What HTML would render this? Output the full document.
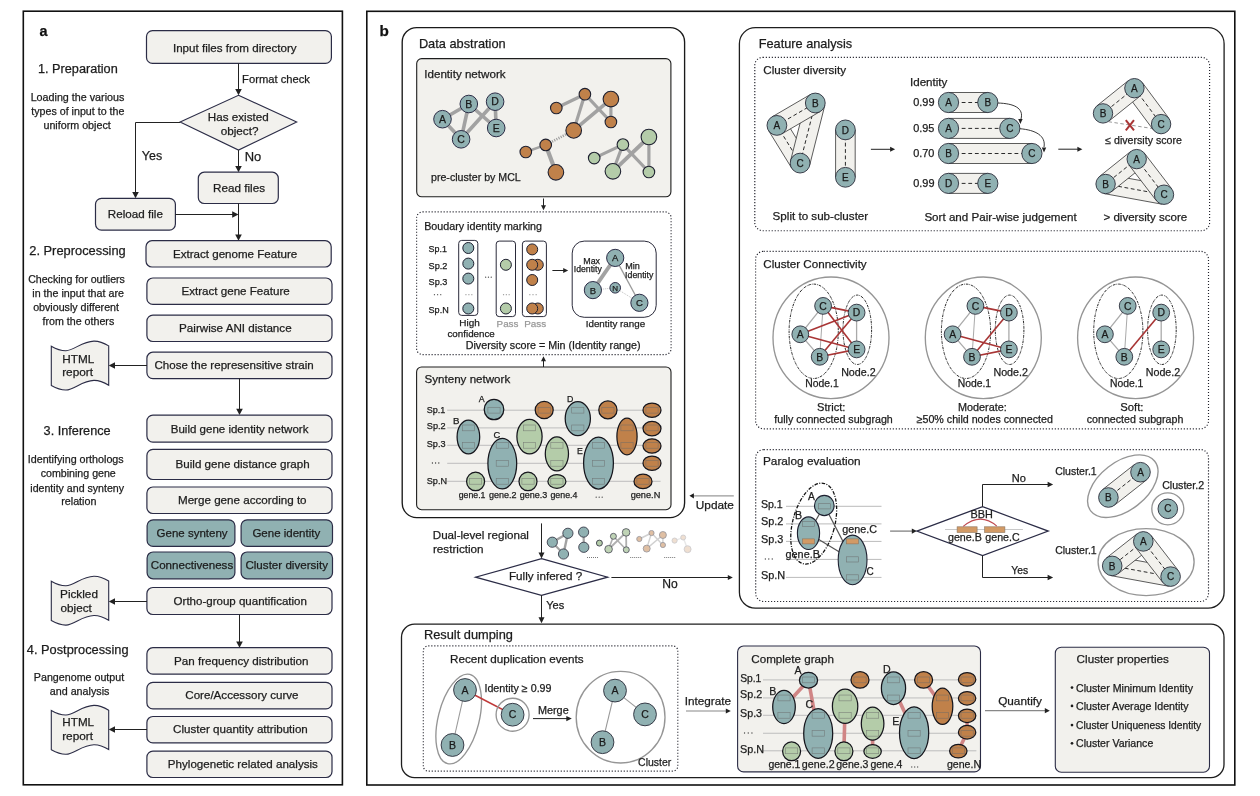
<!DOCTYPE html>
<html><head><meta charset="utf-8"><style>
html,body{margin:0;padding:0;background:#fff;width:1260px;height:796px;overflow:hidden}
svg{display:block;will-change:transform;font-family:"Liberation Sans", sans-serif}
</style></head><body>
<svg width="1260" height="796" viewBox="0 0 1260 796">
<rect width="1260" height="796" fill="#fff"/>
<rect x="23.3" y="11.2" width="319.1" height="773.6" rx="0" fill="none" stroke="#111" stroke-width="1.6" />
<text x="39.6" y="36" font-size="14.39" text-anchor="start" fill="#111" stroke="#111" stroke-width="0.25" font-weight="bold" >a</text>
<text x="37.95" y="72.9" font-size="12.71" text-anchor="start" fill="#1c1c1c" stroke="#1c1c1c" stroke-width="0.25" font-weight="normal" >1. Preparation</text>
<text x="30.64" y="100.7" font-size="10.74" text-anchor="start" fill="#1c1c1c" stroke="#1c1c1c" stroke-width="0.25" font-weight="normal" >Loading the various</text>
<text x="31.34" y="115.3" font-size="10.67" text-anchor="start" fill="#1c1c1c" stroke="#1c1c1c" stroke-width="0.25" font-weight="normal" >types of input to the</text>
<text x="43.43" y="129.4" font-size="10.72" text-anchor="start" fill="#1c1c1c" stroke="#1c1c1c" stroke-width="0.25" font-weight="normal" >uniform object</text>
<text x="29.26" y="255.3" font-size="12.87" text-anchor="start" fill="#1c1c1c" stroke="#1c1c1c" stroke-width="0.25" font-weight="normal" >2. Preprocessing</text>
<text x="28.17" y="283" font-size="10.62" text-anchor="start" fill="#1c1c1c" stroke="#1c1c1c" stroke-width="0.25" font-weight="normal" >Checking for outliers</text>
<text x="32.3" y="296.5" font-size="10.71" text-anchor="start" fill="#1c1c1c" stroke="#1c1c1c" stroke-width="0.25" font-weight="normal" >in the input that are</text>
<text x="33.17" y="310.7" font-size="10.68" text-anchor="start" fill="#1c1c1c" stroke="#1c1c1c" stroke-width="0.25" font-weight="normal" >obviously different</text>
<text x="42.57" y="324.8" font-size="10.66" text-anchor="start" fill="#1c1c1c" stroke="#1c1c1c" stroke-width="0.25" font-weight="normal" >from the others</text>
<text x="43.62" y="435.3" font-size="12.69" text-anchor="start" fill="#1c1c1c" stroke="#1c1c1c" stroke-width="0.25" font-weight="normal" >3. Inference</text>
<text x="27.74" y="463.2" font-size="10.72" text-anchor="start" fill="#1c1c1c" stroke="#1c1c1c" stroke-width="0.25" font-weight="normal" >Identifying orthologs</text>
<text x="40.75" y="477.1" font-size="10.64" text-anchor="start" fill="#1c1c1c" stroke="#1c1c1c" stroke-width="0.25" font-weight="normal" >combining gene</text>
<text x="30.31" y="491.5" font-size="10.61" text-anchor="start" fill="#1c1c1c" stroke="#1c1c1c" stroke-width="0.25" font-weight="normal" >identity and synteny</text>
<text x="61.2" y="505" font-size="10.75" text-anchor="start" fill="#1c1c1c" stroke="#1c1c1c" stroke-width="0.25" font-weight="normal" >relation</text>
<text x="26.81" y="653.6" font-size="12.81" text-anchor="start" fill="#1c1c1c" stroke="#1c1c1c" stroke-width="0.25" font-weight="normal" >4. Postprocessing</text>
<text x="33.85" y="681" font-size="10.69" text-anchor="start" fill="#1c1c1c" stroke="#1c1c1c" stroke-width="0.25" font-weight="normal" >Pangenome output</text>
<text x="49.74" y="695.2" font-size="10.74" text-anchor="start" fill="#1c1c1c" stroke="#1c1c1c" stroke-width="0.25" font-weight="normal" >and analysis</text>
<rect x="146.5" y="30.6" width="184.9" height="32.8" rx="6" fill="#f2f1ed" stroke="#2b2c46" stroke-width="1.2" />
<text x="172.96" y="52.2" font-size="11.6" text-anchor="start" fill="#1c1c1c" stroke="#1c1c1c" stroke-width="0.25" font-weight="normal" >Input files from directory</text>
<line x1="238.5" y1="63.5" x2="238.5" y2="90.26" stroke="#222" stroke-width="1" />
<polygon points="238.5,95.3 235.2,89 241.8,89" fill="#222" stroke="none" stroke-width="1" />
<text x="242.1" y="82.8" font-size="11.2" text-anchor="start" fill="#1c1c1c" stroke="#1c1c1c" stroke-width="0.25" font-weight="normal" >Format check</text>
<polygon points="238.5,95.3 296.7,122 238.5,150.1 180.1,122" fill="#f2f1ed" stroke="#2b2c46" stroke-width="1.1" />
<text x="207.87" y="120.6" font-size="11.65" text-anchor="start" fill="#1c1c1c" stroke="#1c1c1c" stroke-width="0.25" font-weight="normal" >Has existed</text>
<text x="220.63" y="135.2" font-size="11.72" text-anchor="start" fill="#1c1c1c" stroke="#1c1c1c" stroke-width="0.25" font-weight="normal" >object?</text>
<polyline points="180.1,122.5 135.5,122.5 135.5,192" fill="none" stroke="#222" stroke-width="1" />
<polygon points="135.5,198.3 132.2,192 138.8,192" fill="#222" stroke="none" stroke-width="1" />
<text x="141.85" y="160" font-size="12.42" text-anchor="start" fill="#1c1c1c" stroke="#1c1c1c" stroke-width="0.25" font-weight="normal" >Yes</text>
<line x1="238.5" y1="150.1" x2="238.5" y2="167.16" stroke="#222" stroke-width="1" />
<polygon points="238.5,172.2 235.2,165.9 241.8,165.9" fill="#222" stroke="none" stroke-width="1" />
<text x="244.66" y="160.7" font-size="12.96" text-anchor="start" fill="#1c1c1c" stroke="#1c1c1c" stroke-width="0.25" font-weight="normal" >No</text>
<rect x="198.3" y="172.2" width="80" height="31.3" rx="6" fill="#f2f1ed" stroke="#2b2c46" stroke-width="1.2" />
<text x="213.07" y="192" font-size="11.68" text-anchor="start" fill="#1c1c1c" stroke="#1c1c1c" stroke-width="0.25" font-weight="normal" >Read files</text>
<rect x="95.5" y="198.3" width="79.9" height="31.8" rx="6" fill="#f2f1ed" stroke="#2b2c46" stroke-width="1.2" />
<text x="107.87" y="218.2" font-size="11.65" text-anchor="start" fill="#1c1c1c" stroke="#1c1c1c" stroke-width="0.25" font-weight="normal" >Reload file</text>
<line x1="175.4" y1="214.5" x2="233.46" y2="214.5" stroke="#222" stroke-width="1" />
<polygon points="238.5,214.5 232.2,211.2 232.2,217.8" fill="#222" stroke="none" stroke-width="1" />
<line x1="238.5" y1="203.5" x2="238.5" y2="235.76" stroke="#222" stroke-width="1" />
<polygon points="238.5,240.8 235.2,234.5 241.8,234.5" fill="#222" stroke="none" stroke-width="1" />
<rect x="146" y="240.7" width="185.2" height="26.3" rx="6" fill="#f2f1ed" stroke="#2b2c46" stroke-width="1.2" />
<text x="172.97" y="258" font-size="11.59" text-anchor="start" fill="#1c1c1c" stroke="#1c1c1c" stroke-width="0.25" font-weight="normal" >Extract genome Feature</text>
<rect x="146.9" y="278" width="185.1" height="26.4" rx="6" fill="#f2f1ed" stroke="#2b2c46" stroke-width="1.2" />
<text x="181.47" y="295" font-size="11.6" text-anchor="start" fill="#1c1c1c" stroke="#1c1c1c" stroke-width="0.25" font-weight="normal" >Extract gene Feature</text>
<rect x="146.9" y="315.1" width="185.1" height="26.4" rx="6" fill="#f2f1ed" stroke="#2b2c46" stroke-width="1.2" />
<text x="179.07" y="332.1" font-size="11.65" text-anchor="start" fill="#1c1c1c" stroke="#1c1c1c" stroke-width="0.25" font-weight="normal" >Pairwise ANI distance</text>
<rect x="146.9" y="352.2" width="185.1" height="26.4" rx="6" fill="#f2f1ed" stroke="#2b2c46" stroke-width="1.2" />
<text x="154.52" y="369.2" font-size="11.55" text-anchor="start" fill="#1c1c1c" stroke="#1c1c1c" stroke-width="0.25" font-weight="normal" >Chose the represensitive strain</text>
<line x1="239.5" y1="378.6" x2="239.5" y2="410.06" stroke="#222" stroke-width="1" />
<polygon points="239.5,415.1 236.2,408.8 242.8,408.8" fill="#222" stroke="none" stroke-width="1" />
<rect x="146.9" y="415.1" width="185.1" height="27" rx="6" fill="#f2f1ed" stroke="#2b2c46" stroke-width="1.2" />
<text x="170.78" y="432.5" font-size="11.53" text-anchor="start" fill="#1c1c1c" stroke="#1c1c1c" stroke-width="0.25" font-weight="normal" >Build gene identity network</text>
<rect x="146.9" y="449.4" width="185.1" height="30.1" rx="6" fill="#f2f1ed" stroke="#2b2c46" stroke-width="1.2" />
<text x="175.57" y="468.4" font-size="11.6" text-anchor="start" fill="#1c1c1c" stroke="#1c1c1c" stroke-width="0.25" font-weight="normal" >Build gene distance graph</text>
<rect x="146.9" y="487" width="185.1" height="26.5" rx="6" fill="#f2f1ed" stroke="#2b2c46" stroke-width="1.2" />
<text x="177.97" y="503.7" font-size="11.64" text-anchor="start" fill="#1c1c1c" stroke="#1c1c1c" stroke-width="0.25" font-weight="normal" >Merge gene according to</text>
<rect x="147.1" y="519.8" width="87.8" height="26.6" rx="6" fill="#90b1b2" stroke="#2b2c46" stroke-width="1.2" />
<text x="156.52" y="537.2" font-size="11.52" text-anchor="start" fill="#1c1c1c" stroke="#1c1c1c" stroke-width="0.25" font-weight="normal" >Gene synteny</text>
<rect x="241.1" y="519.8" width="91.4" height="26.6" rx="6" fill="#90b1b2" stroke="#2b2c46" stroke-width="1.2" />
<text x="252.42" y="537.2" font-size="11.5" text-anchor="start" fill="#1c1c1c" stroke="#1c1c1c" stroke-width="0.25" font-weight="normal" >Gene identity</text>
<rect x="147.1" y="552" width="87.8" height="26.8" rx="6" fill="#90b1b2" stroke="#2b2c46" stroke-width="1.2" />
<text x="150.82" y="569.3" font-size="11.59" text-anchor="start" fill="#1c1c1c" stroke="#1c1c1c" stroke-width="0.25" font-weight="normal" >Connectiveness</text>
<rect x="241.1" y="552" width="91.4" height="26.8" rx="6" fill="#90b1b2" stroke="#2b2c46" stroke-width="1.2" />
<text x="245.42" y="569.3" font-size="11.62" text-anchor="start" fill="#1c1c1c" stroke="#1c1c1c" stroke-width="0.25" font-weight="normal" >Cluster diversity</text>
<rect x="146.9" y="587.5" width="185.1" height="27" rx="6" fill="#f2f1ed" stroke="#2b2c46" stroke-width="1.2" />
<text x="173.58" y="605.2" font-size="11.54" text-anchor="start" fill="#1c1c1c" stroke="#1c1c1c" stroke-width="0.25" font-weight="normal" >Ortho-group quantification</text>
<line x1="239.5" y1="614.5" x2="239.5" y2="642.66" stroke="#222" stroke-width="1" />
<polygon points="239.5,647.7 236.2,641.4 242.8,641.4" fill="#222" stroke="none" stroke-width="1" />
<rect x="146.9" y="647.7" width="185.1" height="26.5" rx="6" fill="#f2f1ed" stroke="#2b2c46" stroke-width="1.2" />
<text x="174.07" y="664.6" font-size="11.64" text-anchor="start" fill="#1c1c1c" stroke="#1c1c1c" stroke-width="0.25" font-weight="normal" >Pan frequency distribution</text>
<rect x="146.9" y="682.3" width="185.1" height="26.6" rx="6" fill="#f2f1ed" stroke="#2b2c46" stroke-width="1.2" />
<text x="185.32" y="699.2" font-size="11.58" text-anchor="start" fill="#1c1c1c" stroke="#1c1c1c" stroke-width="0.25" font-weight="normal" >Core/Accessory curve</text>
<rect x="146.9" y="716.5" width="185.1" height="26.4" rx="6" fill="#f2f1ed" stroke="#2b2c46" stroke-width="1.2" />
<text x="173.12" y="733.3" font-size="11.6" text-anchor="start" fill="#1c1c1c" stroke="#1c1c1c" stroke-width="0.25" font-weight="normal" >Cluster quantity attribution</text>
<rect x="146.9" y="751.1" width="185.1" height="26.4" rx="6" fill="#f2f1ed" stroke="#2b2c46" stroke-width="1.2" />
<text x="167.87" y="767.5" font-size="11.59" text-anchor="start" fill="#1c1c1c" stroke="#1c1c1c" stroke-width="0.25" font-weight="normal" >Phylogenetic related analysis</text>
<path d="M51.3,346.2 C57,349.5 61,350.8 66,350.7 C74,350.5 82,341.3 93.9,341.1 C99,341 104,343 108.7,345.9 L108.7,385.2 C104,382.3 99,380.3 93.9,380.4 C82,380.6 74,390 66,390 C61,390.1 57,388.7 51.3,385.5 Z" fill="#f2f1ed" stroke="#2b2c46" stroke-width="1.1" />
<text x="62.36" y="362.5" font-size="11.72" text-anchor="start" fill="#1c1c1c" stroke="#1c1c1c" stroke-width="0.25" font-weight="normal" >HTML</text>
<text x="62.13" y="376" font-size="11.84" text-anchor="start" fill="#1c1c1c" stroke="#1c1c1c" stroke-width="0.25" font-weight="normal" >report</text>
<line x1="147" y1="365.5" x2="113.74" y2="365.5" stroke="#222" stroke-width="1" />
<polygon points="108.7,365.5 115,362.2 115,368.8" fill="#222" stroke="none" stroke-width="1" />
<path d="M51.3,581.3 C57,584.6 61,585.9 66,585.8 C74,585.6 82,576.4 93.9,576.2 C99,576.1 104,578.1 108.7,581 L108.7,620.3 C104,617.4 99,615.4 93.9,615.5 C82,615.7 74,625.1 66,625.1 C61,625.2 57,623.8 51.3,620.6 Z" fill="#f2f1ed" stroke="#2b2c46" stroke-width="1.1" />
<text x="60.06" y="597.8" font-size="11.75" text-anchor="start" fill="#1c1c1c" stroke="#1c1c1c" stroke-width="0.25" font-weight="normal" >Pickled</text>
<text x="60.53" y="611.5" font-size="11.71" text-anchor="start" fill="#1c1c1c" stroke="#1c1c1c" stroke-width="0.25" font-weight="normal" >object</text>
<line x1="147" y1="601.5" x2="113.74" y2="601.5" stroke="#222" stroke-width="1" />
<polygon points="108.7,601.5 115,598.2 115,604.8" fill="#222" stroke="none" stroke-width="1" />
<path d="M51.3,710.5 C57,713.8 61,715.1 66,715 C74,714.8 82,705.6 93.9,705.4 C99,705.3 104,707.3 108.7,710.2 L108.7,749.5 C104,746.6 99,744.6 93.9,744.7 C82,744.9 74,754.3 66,754.3 C61,754.4 57,753 51.3,749.8 Z" fill="#f2f1ed" stroke="#2b2c46" stroke-width="1.1" />
<text x="62.37" y="726.4" font-size="11.65" text-anchor="start" fill="#1c1c1c" stroke="#1c1c1c" stroke-width="0.25" font-weight="normal" >HTML</text>
<text x="62.13" y="740.3" font-size="11.84" text-anchor="start" fill="#1c1c1c" stroke="#1c1c1c" stroke-width="0.25" font-weight="normal" >report</text>
<line x1="147" y1="729.5" x2="113.74" y2="729.5" stroke="#222" stroke-width="1" />
<polygon points="108.7,729.5 115,726.2 115,732.8" fill="#222" stroke="none" stroke-width="1" />
<rect x="366.8" y="11.3" width="868" height="773.7" rx="0" fill="none" stroke="#111" stroke-width="1.6" />
<text x="379.51" y="35.5" font-size="15.25" text-anchor="start" fill="#111" stroke="#111" stroke-width="0.25" font-weight="bold" >b</text>
<rect x="402.2" y="27.6" width="282.4" height="490" rx="14.5" fill="none" stroke="#1a1a1a" stroke-width="1.35" />
<text x="418.88" y="47.9" font-size="12.81" text-anchor="start" fill="#1c1c1c" stroke="#1c1c1c" stroke-width="0.25" font-weight="normal" >Data abstration</text>
<rect x="416.7" y="58.6" width="254.2" height="138.2" rx="5" fill="#f2f1ed" stroke="#1e1e1e" stroke-width="1.1" />
<text x="424.25" y="77.6" font-size="11.61" text-anchor="start" fill="#1c1c1c" stroke="#1c1c1c" stroke-width="0.25" font-weight="normal" >Identity network</text>
<text x="431.03" y="181.1" font-size="10.64" text-anchor="start" fill="#1c1c1c" stroke="#1c1c1c" stroke-width="0.25" font-weight="normal" >pre-cluster by MCL</text>
<line x1="442.5" y1="119.2" x2="468.8" y2="104" stroke="#a2a2a2" stroke-width="3.6" />
<line x1="442.5" y1="119.2" x2="461.1" y2="139.3" stroke="#a2a2a2" stroke-width="3.6" />
<line x1="468.8" y1="104" x2="461.1" y2="139.3" stroke="#a2a2a2" stroke-width="3.6" />
<line x1="468.8" y1="104" x2="496.2" y2="128" stroke="#a2a2a2" stroke-width="3.6" />
<line x1="461.1" y1="139.3" x2="495.1" y2="101.7" stroke="#a2a2a2" stroke-width="3.6" />
<line x1="495.1" y1="101.7" x2="496.2" y2="128" stroke="#a2a2a2" stroke-width="3.6" />
<circle cx="442.5" cy="119.2" r="8.8" fill="#90b1b2" stroke="#2b2c46" stroke-width="1" />
<text x="442.5" y="122.98" font-size="10.5" text-anchor="middle" fill="#1a1a1a" stroke="#1a1a1a" stroke-width="0.25" font-weight="normal" >A</text>
<circle cx="468.8" cy="104" r="8.8" fill="#90b1b2" stroke="#2b2c46" stroke-width="1" />
<text x="468.8" y="107.78" font-size="10.5" text-anchor="middle" fill="#1a1a1a" stroke="#1a1a1a" stroke-width="0.25" font-weight="normal" >B</text>
<circle cx="461.1" cy="139.3" r="8.8" fill="#90b1b2" stroke="#2b2c46" stroke-width="1" />
<text x="461.1" y="143.08" font-size="10.5" text-anchor="middle" fill="#1a1a1a" stroke="#1a1a1a" stroke-width="0.25" font-weight="normal" >C</text>
<circle cx="495.1" cy="101.7" r="8.8" fill="#90b1b2" stroke="#2b2c46" stroke-width="1" />
<text x="495.1" y="105.48" font-size="10.5" text-anchor="middle" fill="#1a1a1a" stroke="#1a1a1a" stroke-width="0.25" font-weight="normal" >D</text>
<circle cx="496.2" cy="128" r="8.8" fill="#90b1b2" stroke="#2b2c46" stroke-width="1" />
<text x="496.2" y="131.78" font-size="10.5" text-anchor="middle" fill="#1a1a1a" stroke="#1a1a1a" stroke-width="0.25" font-weight="normal" >E</text>
<line x1="556.3" y1="108" x2="584.9" y2="94.2" stroke="#a2a2a2" stroke-width="3.2" />
<line x1="584.9" y1="94.2" x2="573.7" y2="130.4" stroke="#a2a2a2" stroke-width="3.2" />
<line x1="584.9" y1="94.2" x2="610.9" y2="122" stroke="#a2a2a2" stroke-width="3.2" />
<line x1="573.7" y1="130.4" x2="610.9" y2="99.1" stroke="#a2a2a2" stroke-width="3.6" />
<line x1="610.9" y1="99.1" x2="610.9" y2="122" stroke="#a2a2a2" stroke-width="3.2" />
<line x1="525.8" y1="152" x2="545.7" y2="144.9" stroke="#a2a2a2" stroke-width="2.4" />
<line x1="545.7" y1="144.9" x2="555.9" y2="172.3" stroke="#a2a2a2" stroke-width="4.2" />
<line x1="545.7" y1="144.9" x2="573.7" y2="130.4" stroke="#a2a2a2" stroke-width="2.6" stroke-dasharray="1.2 1.2"/>
<circle cx="556.3" cy="108" r="5.8" fill="#c0814a" stroke="#1e2030" stroke-width="1.1" />
<circle cx="584.9" cy="94.2" r="5.8" fill="#c0814a" stroke="#1e2030" stroke-width="1.1" />
<circle cx="610.9" cy="99.1" r="7.8" fill="#c0814a" stroke="#1e2030" stroke-width="1.1" />
<circle cx="610.9" cy="122" r="5.8" fill="#c0814a" stroke="#1e2030" stroke-width="1.1" />
<circle cx="573.7" cy="130.4" r="7.8" fill="#c0814a" stroke="#1e2030" stroke-width="1.1" />
<circle cx="525.8" cy="152" r="5.8" fill="#c0814a" stroke="#1e2030" stroke-width="1.1" />
<circle cx="545.7" cy="144.9" r="5.8" fill="#c0814a" stroke="#1e2030" stroke-width="1.1" />
<circle cx="555.9" cy="172.3" r="7.8" fill="#c0814a" stroke="#1e2030" stroke-width="1.1" />
<line x1="594.2" y1="158.1" x2="622.9" y2="144.6" stroke="#a2a2a2" stroke-width="3.2" />
<line x1="622.9" y1="144.6" x2="612.9" y2="171.3" stroke="#a2a2a2" stroke-width="3.2" />
<line x1="612.9" y1="171.3" x2="648.9" y2="137" stroke="#a2a2a2" stroke-width="3.8" />
<line x1="622.9" y1="144.6" x2="648.9" y2="172" stroke="#a2a2a2" stroke-width="3.2" />
<line x1="648.9" y1="137" x2="648.9" y2="172" stroke="#a2a2a2" stroke-width="3.2" />
<circle cx="648.9" cy="137" r="7.8" fill="#b4cca9" stroke="#1e2030" stroke-width="1.1" />
<circle cx="622.9" cy="144.6" r="5.8" fill="#b4cca9" stroke="#1e2030" stroke-width="1.1" />
<circle cx="594.2" cy="158.1" r="5.8" fill="#b4cca9" stroke="#1e2030" stroke-width="1.1" />
<circle cx="612.9" cy="171.3" r="7.8" fill="#b4cca9" stroke="#1e2030" stroke-width="1.1" />
<circle cx="648.9" cy="172" r="5.8" fill="#b4cca9" stroke="#1e2030" stroke-width="1.1" />
<line x1="543.5" y1="198.5" x2="543.5" y2="206.3" stroke="#222" stroke-width="1" />
<polygon points="543.5,210.3 541,205.3 546,205.3" fill="#222" stroke="none" stroke-width="1" />
<rect x="416.6" y="211.9" width="254.5" height="142.7" rx="6" fill="none" stroke="#1e1e28" stroke-width="1.15" stroke-dasharray="1.1 1.9"/>
<text x="424.24" y="229.6" font-size="10.71" text-anchor="start" fill="#1c1c1c" stroke="#1c1c1c" stroke-width="0.25" font-weight="normal" >Boudary identity marking</text>
<text x="428.6" y="251.9" font-size="8.92" text-anchor="start" fill="#1c1c1c" stroke="#1c1c1c" stroke-width="0.25" font-weight="normal" >Sp.1</text>
<text x="428.59" y="268.9" font-size="9.17" text-anchor="start" fill="#1c1c1c" stroke="#1c1c1c" stroke-width="0.25" font-weight="normal" >Sp.2</text>
<text x="428.59" y="285" font-size="9.15" text-anchor="start" fill="#1c1c1c" stroke="#1c1c1c" stroke-width="0.25" font-weight="normal" >Sp.3</text>
<text x="428.59" y="312.7" font-size="9.06" text-anchor="start" fill="#1c1c1c" stroke="#1c1c1c" stroke-width="0.25" font-weight="normal" >Sp.N</text>
<circle cx="434.45" cy="294.7" r="0.65" fill="#555" stroke="none" stroke-width="0" />
<circle cx="437.6" cy="294.7" r="0.65" fill="#555" stroke="none" stroke-width="0" />
<circle cx="440.75" cy="294.7" r="0.65" fill="#555" stroke="none" stroke-width="0" />
<rect x="458.7" y="240.4" width="19.1" height="75" rx="3" fill="none" stroke="#2a2a3a" stroke-width="1" />
<circle cx="468.3" cy="248" r="5.5" fill="#90b1b2" stroke="#1e2030" stroke-width="1" />
<circle cx="468.3" cy="263.6" r="5.5" fill="#90b1b2" stroke="#1e2030" stroke-width="1" />
<circle cx="468.3" cy="278.6" r="5.5" fill="#90b1b2" stroke="#1e2030" stroke-width="1" />
<circle cx="468.3" cy="308.5" r="5.5" fill="#90b1b2" stroke="#1e2030" stroke-width="1" />
<circle cx="465.95" cy="294.7" r="0.65" fill="#999" stroke="none" stroke-width="0" />
<circle cx="468.9" cy="294.7" r="0.65" fill="#999" stroke="none" stroke-width="0" />
<circle cx="471.85" cy="294.7" r="0.65" fill="#999" stroke="none" stroke-width="0" />
<circle cx="485.65" cy="277.2" r="0.65" fill="#444" stroke="none" stroke-width="0" />
<circle cx="488.45" cy="277.2" r="0.65" fill="#444" stroke="none" stroke-width="0" />
<circle cx="491.25" cy="277.2" r="0.65" fill="#444" stroke="none" stroke-width="0" />
<rect x="496.2" y="241.1" width="19.3" height="75.5" rx="3" fill="none" stroke="#2a2a3a" stroke-width="1" />
<circle cx="505.9" cy="264.8" r="5.5" fill="#b4cca9" stroke="#1e2030" stroke-width="1" />
<circle cx="505.9" cy="308.5" r="5.5" fill="#b4cca9" stroke="#1e2030" stroke-width="1" />
<circle cx="503.55" cy="294.7" r="0.65" fill="#999" stroke="none" stroke-width="0" />
<circle cx="506.35" cy="294.7" r="0.65" fill="#999" stroke="none" stroke-width="0" />
<circle cx="509.15" cy="294.7" r="0.65" fill="#999" stroke="none" stroke-width="0" />
<rect x="522.4" y="241.1" width="24" height="75.5" rx="3" fill="none" stroke="#2a2a3a" stroke-width="1" />
<circle cx="532.2" cy="249.4" r="5.5" fill="#c0814a" stroke="#1e2030" stroke-width="1" />
<circle cx="537.8" cy="264.8" r="5.5" fill="#c0814a" stroke="#1e2030" stroke-width="1" />
<circle cx="532.2" cy="264.8" r="5.5" fill="#c0814a" stroke="#1e2030" stroke-width="1" />
<circle cx="532.2" cy="280" r="5.5" fill="#c0814a" stroke="#1e2030" stroke-width="1" />
<circle cx="537.8" cy="308.5" r="5.5" fill="#c0814a" stroke="#1e2030" stroke-width="1" />
<circle cx="532.2" cy="308.5" r="5.5" fill="#c0814a" stroke="#1e2030" stroke-width="1" />
<circle cx="529.85" cy="294.7" r="0.65" fill="#999" stroke="none" stroke-width="0" />
<circle cx="533" cy="294.7" r="0.65" fill="#999" stroke="none" stroke-width="0" />
<circle cx="536.15" cy="294.7" r="0.65" fill="#999" stroke="none" stroke-width="0" />
<text x="459.31" y="325.5" font-size="9.93" text-anchor="start" fill="#1c1c1c" stroke="#1c1c1c" stroke-width="0.25" font-weight="normal" >High</text>
<text x="447.48" y="336.6" font-size="9.79" text-anchor="start" fill="#1c1c1c" stroke="#1c1c1c" stroke-width="0.25" font-weight="normal" >confidence</text>
<text x="496.61" y="326.9" font-size="9.82" text-anchor="start" fill="#999" stroke="#999" stroke-width="0.25" font-weight="normal" >Pass</text>
<text x="524.21" y="326.9" font-size="9.87" text-anchor="start" fill="#999" stroke="#999" stroke-width="0.25" font-weight="normal" >Pass</text>
<line x1="552.4" y1="270.5" x2="564.2" y2="270.5" stroke="#222" stroke-width="1" />
<polygon points="568.2,270.5 563.2,267.9 563.2,273.1" fill="#222" stroke="none" stroke-width="1" />
<rect x="572.2" y="241.1" width="84" height="76.2" rx="12" fill="none" stroke="#2a2a3a" stroke-width="1" />
<line x1="615.2" y1="257.9" x2="592.9" y2="290.1" stroke="#a2a2a2" stroke-width="3.8" />
<line x1="615.2" y1="257.9" x2="639.4" y2="302.8" stroke="#9a9a9a" stroke-width="1.3" />
<line x1="592.9" y1="290.1" x2="615.2" y2="287.8" stroke="#bbb" stroke-width="0.9" stroke-dasharray="1 1"/>
<line x1="615.2" y1="287.8" x2="639.4" y2="302.8" stroke="#bbb" stroke-width="0.9" stroke-dasharray="1 1"/>
<circle cx="615.2" cy="257.9" r="8.6" fill="#90b1b2" stroke="#2b2c46" stroke-width="1" />
<text x="615.2" y="261.32" font-size="9.5" text-anchor="middle" fill="#1a1a1a" stroke="#1a1a1a" stroke-width="0.25" font-weight="normal" >A</text>
<circle cx="592.9" cy="290.1" r="8.6" fill="#90b1b2" stroke="#2b2c46" stroke-width="1" />
<text x="592.9" y="293.52" font-size="9.5" text-anchor="middle" fill="#1a1a1a" stroke="#1a1a1a" stroke-width="0.25" font-weight="normal" >B</text>
<circle cx="639.4" cy="302.8" r="8.6" fill="#90b1b2" stroke="#2b2c46" stroke-width="1" />
<text x="639.4" y="306.22" font-size="9.5" text-anchor="middle" fill="#1a1a1a" stroke="#1a1a1a" stroke-width="0.25" font-weight="normal" >C</text>
<circle cx="615.2" cy="287.8" r="5.3" fill="#90b1b2" stroke="#2b2c46" stroke-width="1" />
<text x="615.2" y="290.68" font-size="8" text-anchor="middle" fill="#1a1a1a" stroke="#1a1a1a" stroke-width="0.25" font-weight="normal" >N</text>
<text x="583.29" y="263.7" font-size="8.89" text-anchor="start" fill="#1c1c1c" stroke="#1c1c1c" stroke-width="0.25" font-weight="normal" >Max</text>
<text x="573.72" y="272.4" font-size="8.71" text-anchor="start" fill="#1c1c1c" stroke="#1c1c1c" stroke-width="0.25" font-weight="normal" >Identity</text>
<text x="625.17" y="268.8" font-size="9.06" text-anchor="start" fill="#1c1c1c" stroke="#1c1c1c" stroke-width="0.25" font-weight="normal" >Min</text>
<text x="625.11" y="277.7" font-size="8.77" text-anchor="start" fill="#1c1c1c" stroke="#1c1c1c" stroke-width="0.25" font-weight="normal" >Identity</text>
<text x="585.72" y="326.9" font-size="9.81" text-anchor="start" fill="#1c1c1c" stroke="#1c1c1c" stroke-width="0.25" font-weight="normal" >Identity range</text>
<text x="465.74" y="348.8" font-size="10.72" text-anchor="start" fill="#1c1c1c" stroke="#1c1c1c" stroke-width="0.25" font-weight="normal" >Diversity score = Min (Identity range)</text>
<line x1="543.5" y1="367" x2="543.5" y2="360.3" stroke="#222" stroke-width="1" />
<polygon points="543.5,356.3 541,361.3 546,361.3" fill="#222" stroke="none" stroke-width="1" />
<rect x="416.6" y="367" width="254.4" height="142.7" rx="5" fill="#f2f1ed" stroke="#1e1e1e" stroke-width="1.1" />
<text x="424.58" y="382.9" font-size="11.59" text-anchor="start" fill="#1c1c1c" stroke="#1c1c1c" stroke-width="0.25" font-weight="normal" >Synteny network</text>
<line x1="447.2" y1="410.2" x2="660.6" y2="410.2" stroke="#bdbdbd" stroke-width="1" />
<line x1="447.2" y1="427.9" x2="660.6" y2="427.9" stroke="#bdbdbd" stroke-width="1" />
<line x1="447.2" y1="445.3" x2="660.6" y2="445.3" stroke="#bdbdbd" stroke-width="1" />
<line x1="447.2" y1="463.3" x2="660.6" y2="463.3" stroke="#bdbdbd" stroke-width="1" />
<line x1="447.2" y1="481.3" x2="660.6" y2="481.3" stroke="#bdbdbd" stroke-width="1" />
<ellipse cx="494" cy="409.5" rx="9.8" ry="10.2" fill="#90b1b2" stroke="#15151c" stroke-width="1.25" />
<rect x="487.9" y="407.3" width="12.2" height="5.8" rx="0" fill="none" stroke="#6a6a6a" stroke-width="0.6" opacity="0.75"/>
<ellipse cx="468.4" cy="436.9" rx="11.3" ry="16.9" fill="#90b1b2" stroke="#15151c" stroke-width="1.25" />
<rect x="462.3" y="425" width="12.2" height="5.8" rx="0" fill="none" stroke="#6a6a6a" stroke-width="0.6" opacity="0.75"/>
<rect x="462.3" y="442.4" width="12.2" height="5.8" rx="0" fill="none" stroke="#6a6a6a" stroke-width="0.6" opacity="0.75"/>
<ellipse cx="502.3" cy="463.6" rx="14.4" ry="25.3" fill="#90b1b2" stroke="#15151c" stroke-width="1.25" />
<rect x="496.2" y="442.4" width="12.2" height="5.8" rx="0" fill="none" stroke="#6a6a6a" stroke-width="0.6" opacity="0.75"/>
<rect x="496.2" y="460.4" width="12.2" height="5.8" rx="0" fill="none" stroke="#6a6a6a" stroke-width="0.6" opacity="0.75"/>
<rect x="496.2" y="478.4" width="12.2" height="5.8" rx="0" fill="none" stroke="#6a6a6a" stroke-width="0.6" opacity="0.75"/>
<ellipse cx="475.6" cy="481.4" rx="9" ry="9.3" fill="#b4cca9" stroke="#15151c" stroke-width="1.25" />
<rect x="469.5" y="478.4" width="12.2" height="5.8" rx="0" fill="none" stroke="#6a6a6a" stroke-width="0.6" opacity="0.75"/>
<ellipse cx="529.5" cy="436.6" rx="12.6" ry="17.3" fill="#b4cca9" stroke="#15151c" stroke-width="1.25" />
<rect x="523.4" y="425" width="12.2" height="5.8" rx="0" fill="none" stroke="#6a6a6a" stroke-width="0.6" opacity="0.75"/>
<rect x="523.4" y="442.4" width="12.2" height="5.8" rx="0" fill="none" stroke="#6a6a6a" stroke-width="0.6" opacity="0.75"/>
<ellipse cx="528" cy="481.4" rx="9" ry="9.3" fill="#b4cca9" stroke="#15151c" stroke-width="1.25" />
<rect x="521.9" y="478.4" width="12.2" height="5.8" rx="0" fill="none" stroke="#6a6a6a" stroke-width="0.6" opacity="0.75"/>
<ellipse cx="544.2" cy="410" rx="9" ry="8.7" fill="#c0814a" stroke="#15151c" stroke-width="1.25" />
<rect x="538.1" y="407.3" width="12.2" height="5.8" rx="0" fill="none" stroke="#6a6a6a" stroke-width="0.6" opacity="0.75"/>
<ellipse cx="556.9" cy="453.8" rx="11.6" ry="17" fill="#b4cca9" stroke="#15151c" stroke-width="1.25" />
<rect x="550.8" y="442.4" width="12.2" height="5.8" rx="0" fill="none" stroke="#6a6a6a" stroke-width="0.6" opacity="0.75"/>
<rect x="550.8" y="460.4" width="12.2" height="5.8" rx="0" fill="none" stroke="#6a6a6a" stroke-width="0.6" opacity="0.75"/>
<ellipse cx="556.9" cy="481.4" rx="9" ry="6.9" fill="#b4cca9" stroke="#15151c" stroke-width="1.25" />
<rect x="550.8" y="478.4" width="12.2" height="5.8" rx="0" fill="none" stroke="#6a6a6a" stroke-width="0.6" opacity="0.75"/>
<ellipse cx="577.8" cy="418.6" rx="12.6" ry="16.9" fill="#90b1b2" stroke="#15151c" stroke-width="1.25" />
<rect x="571.7" y="407.3" width="12.2" height="5.8" rx="0" fill="none" stroke="#6a6a6a" stroke-width="0.6" opacity="0.75"/>
<rect x="571.7" y="425" width="12.2" height="5.8" rx="0" fill="none" stroke="#6a6a6a" stroke-width="0.6" opacity="0.75"/>
<ellipse cx="607.9" cy="409.9" rx="9.1" ry="9" fill="#c0814a" stroke="#15151c" stroke-width="1.25" />
<rect x="601.8" y="407.3" width="12.2" height="5.8" rx="0" fill="none" stroke="#6a6a6a" stroke-width="0.6" opacity="0.75"/>
<ellipse cx="598.5" cy="463" rx="14.9" ry="26" fill="#90b1b2" stroke="#15151c" stroke-width="1.25" />
<rect x="592.4" y="442.4" width="12.2" height="5.8" rx="0" fill="none" stroke="#6a6a6a" stroke-width="0.6" opacity="0.75"/>
<rect x="592.4" y="460.4" width="12.2" height="5.8" rx="0" fill="none" stroke="#6a6a6a" stroke-width="0.6" opacity="0.75"/>
<rect x="592.4" y="478.4" width="12.2" height="5.8" rx="0" fill="none" stroke="#6a6a6a" stroke-width="0.6" opacity="0.75"/>
<ellipse cx="627" cy="436.5" rx="10.1" ry="18.3" fill="#c0814a" stroke="#15151c" stroke-width="1.25" />
<rect x="620.9" y="425" width="12.2" height="5.8" rx="0" fill="none" stroke="#6a6a6a" stroke-width="0.6" opacity="0.75"/>
<rect x="620.9" y="442.4" width="12.2" height="5.8" rx="0" fill="none" stroke="#6a6a6a" stroke-width="0.6" opacity="0.75"/>
<ellipse cx="652" cy="410.2" rx="9" ry="7.2" fill="#c0814a" stroke="#15151c" stroke-width="1.25" />
<rect x="645.9" y="407.3" width="12.2" height="5.8" rx="0" fill="none" stroke="#6a6a6a" stroke-width="0.6" opacity="0.75"/>
<ellipse cx="652" cy="428.6" rx="9" ry="7.2" fill="#c0814a" stroke="#15151c" stroke-width="1.25" />
<rect x="645.9" y="425" width="12.2" height="5.8" rx="0" fill="none" stroke="#6a6a6a" stroke-width="0.6" opacity="0.75"/>
<ellipse cx="652" cy="446" rx="9" ry="7.2" fill="#c0814a" stroke="#15151c" stroke-width="1.25" />
<rect x="645.9" y="442.4" width="12.2" height="5.8" rx="0" fill="none" stroke="#6a6a6a" stroke-width="0.6" opacity="0.75"/>
<ellipse cx="652" cy="463.2" rx="9" ry="7.2" fill="#c0814a" stroke="#15151c" stroke-width="1.25" />
<rect x="645.9" y="460.4" width="12.2" height="5.8" rx="0" fill="none" stroke="#6a6a6a" stroke-width="0.6" opacity="0.75"/>
<ellipse cx="643" cy="481.4" rx="9" ry="7.2" fill="#c0814a" stroke="#15151c" stroke-width="1.25" />
<rect x="636.9" y="478.4" width="12.2" height="5.8" rx="0" fill="none" stroke="#6a6a6a" stroke-width="0.6" opacity="0.75"/>
<text x="426.79" y="412.7" font-size="9.02" text-anchor="start" fill="#1c1c1c" stroke="#1c1c1c" stroke-width="0.25" font-weight="normal" >Sp.1</text>
<text x="426.79" y="428.6" font-size="9.17" text-anchor="start" fill="#1c1c1c" stroke="#1c1c1c" stroke-width="0.25" font-weight="normal" >Sp.2</text>
<text x="426.79" y="447.3" font-size="9.15" text-anchor="start" fill="#1c1c1c" stroke="#1c1c1c" stroke-width="0.25" font-weight="normal" >Sp.3</text>
<text x="426.79" y="483.5" font-size="9.11" text-anchor="start" fill="#1c1c1c" stroke="#1c1c1c" stroke-width="0.25" font-weight="normal" >Sp.N</text>
<circle cx="432.4" cy="463" r="0.65" fill="#333" stroke="none" stroke-width="0" />
<circle cx="435.6" cy="463" r="0.65" fill="#333" stroke="none" stroke-width="0" />
<circle cx="438.8" cy="463" r="0.65" fill="#333" stroke="none" stroke-width="0" />
<text x="478.8" y="402.2" font-size="8.87" text-anchor="start" fill="#1c1c1c" stroke="#1c1c1c" stroke-width="0.25" font-weight="normal" >A</text>
<text x="453.12" y="424" font-size="9.72" text-anchor="start" fill="#1c1c1c" stroke="#1c1c1c" stroke-width="0.25" font-weight="normal" >B</text>
<text x="493.54" y="437.6" font-size="9.29" text-anchor="start" fill="#1c1c1c" stroke="#1c1c1c" stroke-width="0.25" font-weight="normal" >C</text>
<text x="567" y="401.8" font-size="8.74" text-anchor="start" fill="#1c1c1c" stroke="#1c1c1c" stroke-width="0.25" font-weight="normal" >D</text>
<text x="577.1" y="453.8" font-size="8.81" text-anchor="start" fill="#1c1c1c" stroke="#1c1c1c" stroke-width="0.25" font-weight="normal" >E</text>
<text x="458.75" y="498" font-size="8.72" text-anchor="start" fill="#1c1c1c" stroke="#1c1c1c" stroke-width="0.25" font-weight="normal" >gene.1</text>
<text x="488.94" y="498" font-size="8.99" text-anchor="start" fill="#1c1c1c" stroke="#1c1c1c" stroke-width="0.25" font-weight="normal" >gene.2</text>
<text x="519.64" y="498" font-size="9.01" text-anchor="start" fill="#1c1c1c" stroke="#1c1c1c" stroke-width="0.25" font-weight="normal" >gene.3</text>
<text x="550.45" y="498" font-size="8.86" text-anchor="start" fill="#1c1c1c" stroke="#1c1c1c" stroke-width="0.25" font-weight="normal" >gene.4</text>
<text x="630.63" y="498" font-size="9.21" text-anchor="start" fill="#1c1c1c" stroke="#1c1c1c" stroke-width="0.25" font-weight="normal" >gene.N</text>
<circle cx="596.2" cy="497.2" r="0.65" fill="#444" stroke="none" stroke-width="0" />
<circle cx="599.2" cy="497.2" r="0.65" fill="#444" stroke="none" stroke-width="0" />
<circle cx="602.2" cy="497.2" r="0.65" fill="#444" stroke="none" stroke-width="0" />
<line x1="541.5" y1="523.4" x2="541.5" y2="553.8" stroke="#222" stroke-width="1" />
<polygon points="541.5,558.6 538.5,552.6 544.5,552.6" fill="#222" stroke="none" stroke-width="1" />
<text x="432.77" y="539" font-size="11.61" text-anchor="start" fill="#1c1c1c" stroke="#1c1c1c" stroke-width="0.25" font-weight="normal" >Dual-level regional</text>
<text x="432.94" y="552.5" font-size="11.7" text-anchor="start" fill="#1c1c1c" stroke="#1c1c1c" stroke-width="0.25" font-weight="normal" >restriction</text>
<polygon points="541.5,558.7 607.7,577.2 541.5,595.3 475.5,577.2" fill="#fff" stroke="#2b2c46" stroke-width="1.2" />
<text x="508.97" y="579.8" font-size="11.66" text-anchor="start" fill="#1c1c1c" stroke="#1c1c1c" stroke-width="0.25" font-weight="normal" >Fully infered ?</text>
<line x1="611.4" y1="577.5" x2="728.8" y2="577.5" stroke="#222" stroke-width="1" />
<polygon points="732.8,577.5 727.8,575 727.8,580" fill="#222" stroke="none" stroke-width="1" />
<text x="662.23" y="588.2" font-size="12.1" text-anchor="start" fill="#1c1c1c" stroke="#1c1c1c" stroke-width="0.25" font-weight="normal" >No</text>
<line x1="541.5" y1="595.3" x2="541.5" y2="618.4" stroke="#222" stroke-width="1" />
<polygon points="541.5,623.2 538.5,617.2 544.5,617.2" fill="#222" stroke="none" stroke-width="1" />
<text x="546.18" y="609.1" font-size="11.09" text-anchor="start" fill="#1c1c1c" stroke="#1c1c1c" stroke-width="0.25" font-weight="normal" >Yes</text>
<line x1="733.8" y1="495.8" x2="693" y2="495.8" stroke="#9a9a9a" stroke-width="1.3" />
<polygon points="689.4,495.8 693.9,493.2 693.9,498.4" fill="#1a1a1a" stroke="none" stroke-width="1" />
<text x="695.81" y="509" font-size="11.82" text-anchor="start" fill="#1c1c1c" stroke="#1c1c1c" stroke-width="0.25" font-weight="normal" >Update</text>
<g opacity="1">
<line x1="552.3" y1="542.2" x2="567.9" y2="533.3" stroke="#a2a2a2" stroke-width="2.4" />
<line x1="567.9" y1="533.3" x2="563.5" y2="554" stroke="#a2a2a2" stroke-width="2.4" />
<line x1="552.3" y1="542.2" x2="563.5" y2="554" stroke="#a2a2a2" stroke-width="2" />
<circle cx="552.3" cy="542.2" r="5.1" fill="#90b1b2" stroke="#2a2a3a" stroke-width="0.8" />
<circle cx="567.9" cy="533.3" r="5.1" fill="#90b1b2" stroke="#2a2a3a" stroke-width="0.8" />
<circle cx="563.5" cy="554" r="5.1" fill="#90b1b2" stroke="#2a2a3a" stroke-width="0.8" />
</g>
<g opacity="1">
<line x1="583.6" y1="532.1" x2="583.8" y2="547.3" stroke="#a2a2a2" stroke-width="2.2" />
<circle cx="583.6" cy="532.1" r="5.1" fill="#90b1b2" stroke="#2a2a3a" stroke-width="0.8" />
<circle cx="583.8" cy="547.3" r="5.1" fill="#90b1b2" stroke="#2a2a3a" stroke-width="0.8" />
</g>
<g opacity="1">
<circle cx="599.4" cy="543.1" r="3" fill="#b4cca9" stroke="#2a2a3a" stroke-width="0.8" />
</g>
<g opacity="0.85">
<line x1="613.4" y1="536.3" x2="608.6" y2="549.2" stroke="#a2a2a2" stroke-width="1.6" />
<line x1="608.6" y1="549.2" x2="626.1" y2="532.4" stroke="#a2a2a2" stroke-width="2" />
<line x1="613.4" y1="536.3" x2="626.3" y2="549.8" stroke="#a2a2a2" stroke-width="1.6" />
<line x1="626.1" y1="532.4" x2="626.3" y2="549.8" stroke="#a2a2a2" stroke-width="1.8" />
<circle cx="613.4" cy="536.3" r="3" fill="#b4cca9" stroke="#2a2a3a" stroke-width="0.8" />
<circle cx="626.1" cy="532.4" r="3.8" fill="#b4cca9" stroke="#2a2a3a" stroke-width="0.8" />
<circle cx="608.6" cy="549.2" r="3.8" fill="#b4cca9" stroke="#2a2a3a" stroke-width="0.8" />
<circle cx="626.3" cy="549.8" r="3" fill="#b4cca9" stroke="#2a2a3a" stroke-width="0.8" />
</g>
<g opacity="0.5">
<line x1="639.3" y1="539" x2="651.5" y2="533" stroke="#a2a2a2" stroke-width="1.4" />
<line x1="651.5" y1="533" x2="646.7" y2="548.6" stroke="#a2a2a2" stroke-width="1.4" />
<line x1="651.5" y1="533" x2="662.9" y2="545" stroke="#a2a2a2" stroke-width="1.4" />
<line x1="646.7" y1="548.6" x2="662.9" y2="535" stroke="#a2a2a2" stroke-width="1.4" />
<line x1="662.9" y1="535" x2="662.9" y2="545" stroke="#a2a2a2" stroke-width="1.4" />
<circle cx="639.3" cy="539" r="2.6" fill="#c0814a" stroke="#2a2a3a" stroke-width="0.8" />
<circle cx="651.5" cy="533" r="2.6" fill="#c0814a" stroke="#2a2a3a" stroke-width="0.8" />
<circle cx="662.9" cy="535" r="3.5" fill="#c0814a" stroke="#2a2a3a" stroke-width="0.8" />
<circle cx="646.7" cy="548.6" r="3.5" fill="#c0814a" stroke="#2a2a3a" stroke-width="0.8" />
<circle cx="662.9" cy="545" r="2.6" fill="#c0814a" stroke="#2a2a3a" stroke-width="0.8" />
</g>
<g opacity="0.25">
<line x1="674.6" y1="540.6" x2="683.2" y2="537.5" stroke="#a2a2a2" stroke-width="1.2" />
<line x1="683.2" y1="537.5" x2="687.6" y2="549.2" stroke="#a2a2a2" stroke-width="1.4" />
<circle cx="674.6" cy="540.6" r="2.6" fill="#c0814a" stroke="#2a2a3a" stroke-width="0.8" />
<circle cx="683.2" cy="537.5" r="2.5" fill="#c0814a" stroke="#2a2a3a" stroke-width="0.8" />
<circle cx="687.6" cy="549.2" r="3.5" fill="#c0814a" stroke="#2a2a3a" stroke-width="0.8" />
</g>
<line x1="587" y1="557.5" x2="598.2" y2="557.5" stroke="#555" stroke-width="0.8" stroke-dasharray="1 1"/>
<line x1="630.2" y1="557.5" x2="641.3" y2="557.5" stroke="#555" stroke-width="0.8" stroke-dasharray="1 1"/>
<line x1="664.2" y1="557.5" x2="675.2" y2="557.5" stroke="#555" stroke-width="0.8" stroke-dasharray="1 1"/>
<rect x="739.4" y="27.7" width="484.7" height="580.5" rx="16" fill="none" stroke="#1e1e1e" stroke-width="1.3" />
<text x="758.78" y="47.8" font-size="12.72" text-anchor="start" fill="#1c1c1c" stroke="#1c1c1c" stroke-width="0.25" font-weight="normal" >Feature analysis</text>
<rect x="754.8" y="57.3" width="454.8" height="173.4" rx="8" fill="none" stroke="#1e1e28" stroke-width="1.15" stroke-dasharray="1.1 1.9"/>
<text x="763.32" y="74.2" font-size="11.64" text-anchor="start" fill="#1c1c1c" stroke="#1c1c1c" stroke-width="0.25" font-weight="normal" >Cluster diversity</text>
<polygon points="768.55,130.54 791.75,168.24 808.45,157.96 785.25,120.26" fill="#f2f1ed" stroke="none" stroke-width="1" />
<line x1="768.55" y1="130.54" x2="791.75" y2="168.24" stroke="#333" stroke-width="0.8" />
<line x1="785.25" y1="120.26" x2="808.45" y2="157.96" stroke="#333" stroke-width="0.8" />
<line x1="776.9" y1="125.4" x2="800.1" y2="163.1" stroke="#2a2a2a" stroke-width="1" stroke-dasharray="3.8 2.6"/>
<polygon points="805.8,100.6 790.6,160.7 809.6,165.5 824.8,105.4" fill="#f2f1ed" stroke="none" stroke-width="1" />
<line x1="805.8" y1="100.6" x2="790.6" y2="160.7" stroke="#333" stroke-width="0.8" />
<line x1="824.8" y1="105.4" x2="809.6" y2="165.5" stroke="#333" stroke-width="0.8" />
<line x1="815.3" y1="103" x2="800.1" y2="163.1" stroke="#2a2a2a" stroke-width="1" stroke-dasharray="3.8 2.6"/>
<polygon points="781.84,133.87 820.24,111.47 810.36,94.53 771.96,116.93" fill="#f2f1ed" stroke="none" stroke-width="1" />
<line x1="781.84" y1="133.87" x2="820.24" y2="111.47" stroke="#333" stroke-width="0.8" />
<line x1="771.96" y1="116.93" x2="810.36" y2="94.53" stroke="#333" stroke-width="0.8" />
<line x1="776.9" y1="125.4" x2="815.3" y2="103" stroke="#2a2a2a" stroke-width="1" stroke-dasharray="3.8 2.6"/>
<circle cx="776.9" cy="125.4" r="9.9" fill="#90b1b2" stroke="#2a2c3a" stroke-width="0.9" />
<text x="776.9" y="129" font-size="10" text-anchor="middle" fill="#1a1a1a" stroke="#1a1a1a" stroke-width="0.25" font-weight="normal" >A</text>
<circle cx="815.3" cy="103" r="9.9" fill="#90b1b2" stroke="#2a2c3a" stroke-width="0.9" />
<text x="815.3" y="106.6" font-size="10" text-anchor="middle" fill="#1a1a1a" stroke="#1a1a1a" stroke-width="0.25" font-weight="normal" >B</text>
<circle cx="800.1" cy="163.1" r="9.9" fill="#90b1b2" stroke="#2a2c3a" stroke-width="0.9" />
<text x="800.1" y="166.7" font-size="10" text-anchor="middle" fill="#1a1a1a" stroke="#1a1a1a" stroke-width="0.25" font-weight="normal" >C</text>
<polygon points="835.6,129.9 835.6,177.3 855.2,177.3 855.2,129.9" fill="#f2f1ed" stroke="none" stroke-width="1" />
<line x1="835.6" y1="129.9" x2="835.6" y2="177.3" stroke="#333" stroke-width="0.8" />
<line x1="855.2" y1="129.9" x2="855.2" y2="177.3" stroke="#333" stroke-width="0.8" />
<line x1="845.4" y1="129.9" x2="845.4" y2="177.3" stroke="#2a2a2a" stroke-width="1" stroke-dasharray="3.8 2.6"/>
<circle cx="845.4" cy="129.9" r="9.9" fill="#90b1b2" stroke="#2a2c3a" stroke-width="0.9" />
<text x="845.4" y="133.5" font-size="10" text-anchor="middle" fill="#1a1a1a" stroke="#1a1a1a" stroke-width="0.25" font-weight="normal" >D</text>
<circle cx="845.4" cy="177.3" r="9.9" fill="#90b1b2" stroke="#2a2c3a" stroke-width="0.9" />
<text x="845.4" y="180.9" font-size="10" text-anchor="middle" fill="#1a1a1a" stroke="#1a1a1a" stroke-width="0.25" font-weight="normal" >E</text>
<text x="772.58" y="220.4" font-size="11.64" text-anchor="start" fill="#1c1c1c" stroke="#1c1c1c" stroke-width="0.25" font-weight="normal" >Split to sub-cluster</text>
<line x1="870.9" y1="149.3" x2="891.1" y2="149.3" stroke="#222" stroke-width="1" />
<polygon points="895.1,149.3 890.1,146.8 890.1,151.8" fill="#222" stroke="none" stroke-width="1" />
<text x="909.96" y="86.3" font-size="11.61" text-anchor="start" fill="#1c1c1c" stroke="#1c1c1c" stroke-width="0.25" font-weight="normal" >Identity</text>
<polygon points="948.5,112.5 987.8,112.5 987.8,92.5 948.5,92.5" fill="#f2f1ed" stroke="none" stroke-width="1" />
<line x1="948.5" y1="112.5" x2="987.8" y2="112.5" stroke="#333" stroke-width="0.8" />
<line x1="948.5" y1="92.5" x2="987.8" y2="92.5" stroke="#333" stroke-width="0.8" />
<line x1="948.5" y1="102.5" x2="987.8" y2="102.5" stroke="#2a2a2a" stroke-width="1" stroke-dasharray="3.8 2.8"/>
<circle cx="948.5" cy="102.5" r="10.1" fill="#90b1b2" stroke="#2a2c3a" stroke-width="0.9" />
<text x="948.5" y="106.1" font-size="10" text-anchor="middle" fill="#1a1a1a" stroke="#1a1a1a" stroke-width="0.25" font-weight="normal" >A</text>
<circle cx="987.8" cy="102.5" r="10.1" fill="#90b1b2" stroke="#2a2c3a" stroke-width="0.9" />
<text x="987.8" y="106.1" font-size="10" text-anchor="middle" fill="#1a1a1a" stroke="#1a1a1a" stroke-width="0.25" font-weight="normal" >B</text>
<text x="913.19" y="105.9" font-size="10.95" text-anchor="start" fill="#1c1c1c" stroke="#1c1c1c" stroke-width="0.25" font-weight="normal" >0.99</text>
<polygon points="948.5,138.4 1009.8,138.4 1009.8,118.4 948.5,118.4" fill="#f2f1ed" stroke="none" stroke-width="1" />
<line x1="948.5" y1="138.4" x2="1009.8" y2="138.4" stroke="#333" stroke-width="0.8" />
<line x1="948.5" y1="118.4" x2="1009.8" y2="118.4" stroke="#333" stroke-width="0.8" />
<line x1="948.5" y1="128.4" x2="1009.8" y2="128.4" stroke="#2a2a2a" stroke-width="1" stroke-dasharray="3.8 2.8"/>
<circle cx="948.5" cy="128.4" r="10.1" fill="#90b1b2" stroke="#2a2c3a" stroke-width="0.9" />
<text x="948.5" y="132" font-size="10" text-anchor="middle" fill="#1a1a1a" stroke="#1a1a1a" stroke-width="0.25" font-weight="normal" >A</text>
<circle cx="1009.8" cy="128.4" r="10.1" fill="#90b1b2" stroke="#2a2c3a" stroke-width="0.9" />
<text x="1009.8" y="132" font-size="10" text-anchor="middle" fill="#1a1a1a" stroke="#1a1a1a" stroke-width="0.25" font-weight="normal" >C</text>
<text x="913.19" y="131.8" font-size="10.92" text-anchor="start" fill="#1c1c1c" stroke="#1c1c1c" stroke-width="0.25" font-weight="normal" >0.95</text>
<polygon points="948.5,163.5 1031.9,163.5 1031.9,143.5 948.5,143.5" fill="#f2f1ed" stroke="none" stroke-width="1" />
<line x1="948.5" y1="163.5" x2="1031.9" y2="163.5" stroke="#333" stroke-width="0.8" />
<line x1="948.5" y1="143.5" x2="1031.9" y2="143.5" stroke="#333" stroke-width="0.8" />
<line x1="948.5" y1="153.5" x2="1031.9" y2="153.5" stroke="#2a2a2a" stroke-width="1" stroke-dasharray="3.8 2.8"/>
<circle cx="948.5" cy="153.5" r="10.1" fill="#90b1b2" stroke="#2a2c3a" stroke-width="0.9" />
<text x="948.5" y="157.1" font-size="10" text-anchor="middle" fill="#1a1a1a" stroke="#1a1a1a" stroke-width="0.25" font-weight="normal" >B</text>
<circle cx="1031.9" cy="153.5" r="10.1" fill="#90b1b2" stroke="#2a2c3a" stroke-width="0.9" />
<text x="1031.9" y="157.1" font-size="10" text-anchor="middle" fill="#1a1a1a" stroke="#1a1a1a" stroke-width="0.25" font-weight="normal" >C</text>
<text x="913.19" y="156.9" font-size="10.91" text-anchor="start" fill="#1c1c1c" stroke="#1c1c1c" stroke-width="0.25" font-weight="normal" >0.70</text>
<polygon points="948.5,193.4 987.8,193.4 987.8,173.4 948.5,173.4" fill="#f2f1ed" stroke="none" stroke-width="1" />
<line x1="948.5" y1="193.4" x2="987.8" y2="193.4" stroke="#333" stroke-width="0.8" />
<line x1="948.5" y1="173.4" x2="987.8" y2="173.4" stroke="#333" stroke-width="0.8" />
<line x1="948.5" y1="183.4" x2="987.8" y2="183.4" stroke="#2a2a2a" stroke-width="1" stroke-dasharray="3.8 2.8"/>
<circle cx="948.5" cy="183.4" r="10.1" fill="#90b1b2" stroke="#2a2c3a" stroke-width="0.9" />
<text x="948.5" y="187" font-size="10" text-anchor="middle" fill="#1a1a1a" stroke="#1a1a1a" stroke-width="0.25" font-weight="normal" >D</text>
<circle cx="987.8" cy="183.4" r="10.1" fill="#90b1b2" stroke="#2a2c3a" stroke-width="0.9" />
<text x="987.8" y="187" font-size="10" text-anchor="middle" fill="#1a1a1a" stroke="#1a1a1a" stroke-width="0.25" font-weight="normal" >E</text>
<text x="913.19" y="186.8" font-size="10.95" text-anchor="start" fill="#1c1c1c" stroke="#1c1c1c" stroke-width="0.25" font-weight="normal" >0.99</text>
<path d="M997.7,103 C1014,103.5 1024,108 1021,119" fill="none" stroke="#222" stroke-width="0.9" />
<polygon points="1020.4,124 1018.2,119 1022.6,119" fill="#222" stroke="none" stroke-width="1" />
<path d="M1019.7,128.7 C1036,130 1046,136 1044,147" fill="none" stroke="#222" stroke-width="0.9" />
<polygon points="1044,152.5 1041.8,147.5 1046.2,147.5" fill="#222" stroke="none" stroke-width="1" />
<line x1="1058.3" y1="149.2" x2="1078.4" y2="149.2" stroke="#222" stroke-width="1" />
<polygon points="1082.4,149.2 1077.4,146.7 1077.4,151.7" fill="#222" stroke="none" stroke-width="1" />
<line x1="1108.5" y1="121.7" x2="1152.3" y2="128.5" stroke="#999" stroke-width="1" stroke-dasharray="3.5 2.5"/>
<polygon points="1126.62,93.99 1153.32,129.89 1168.88,118.31 1142.18,82.41" fill="#f2f1ed" stroke="none" stroke-width="1" />
<line x1="1126.62" y1="93.99" x2="1153.32" y2="129.89" stroke="#333" stroke-width="0.8" />
<line x1="1142.18" y1="82.41" x2="1168.88" y2="118.31" stroke="#333" stroke-width="0.8" />
<line x1="1134.4" y1="88.2" x2="1161.1" y2="124.1" stroke="#2a2a2a" stroke-width="1" stroke-dasharray="3.8 2.6"/>
<polygon points="1128.33,80.63 1096.93,105.83 1109.07,120.97 1140.47,95.77" fill="#f2f1ed" stroke="none" stroke-width="1" />
<line x1="1128.33" y1="80.63" x2="1096.93" y2="105.83" stroke="#333" stroke-width="0.8" />
<line x1="1140.47" y1="95.77" x2="1109.07" y2="120.97" stroke="#333" stroke-width="0.8" />
<line x1="1134.4" y1="88.2" x2="1103" y2="113.4" stroke="#2a2a2a" stroke-width="1" stroke-dasharray="3.8 2.6"/>
<circle cx="1134.4" cy="88.2" r="9.7" fill="#90b1b2" stroke="#2a2c3a" stroke-width="0.9" />
<text x="1134.4" y="91.8" font-size="10" text-anchor="middle" fill="#1a1a1a" stroke="#1a1a1a" stroke-width="0.25" font-weight="normal" >A</text>
<circle cx="1103" cy="113.4" r="9.7" fill="#90b1b2" stroke="#2a2c3a" stroke-width="0.9" />
<text x="1103" y="117" font-size="10" text-anchor="middle" fill="#1a1a1a" stroke="#1a1a1a" stroke-width="0.25" font-weight="normal" >B</text>
<circle cx="1161.1" cy="124.1" r="9.7" fill="#90b1b2" stroke="#2a2c3a" stroke-width="0.9" />
<text x="1161.1" y="127.7" font-size="10" text-anchor="middle" fill="#1a1a1a" stroke="#1a1a1a" stroke-width="0.25" font-weight="normal" >C</text>
<line x1="1125.8" y1="120.2" x2="1134" y2="130.4" stroke="#a83535" stroke-width="2" />
<line x1="1134" y1="120.2" x2="1125.8" y2="130.4" stroke="#a83535" stroke-width="2" />
<text x="1105.28" y="144.1" font-size="10.62" text-anchor="start" fill="#1c1c1c" stroke="#1c1c1c" stroke-width="0.25" font-weight="normal" >≤ diversity score</text>
<polygon points="1103.85,193.54 1162.25,204.24 1165.75,185.16 1107.35,174.46" fill="#f2f1ed" stroke="none" stroke-width="1" />
<line x1="1103.85" y1="193.54" x2="1162.25" y2="204.24" stroke="#333" stroke-width="0.8" />
<line x1="1107.35" y1="174.46" x2="1165.75" y2="185.16" stroke="#333" stroke-width="0.8" />
<line x1="1105.6" y1="184" x2="1164" y2="194.7" stroke="#2a2a2a" stroke-width="1" stroke-dasharray="3.8 2.6"/>
<polygon points="1130.64,151.53 1099.54,176.43 1111.66,191.57 1142.76,166.67" fill="#f2f1ed" stroke="none" stroke-width="1" />
<line x1="1130.64" y1="151.53" x2="1099.54" y2="176.43" stroke="#333" stroke-width="0.8" />
<line x1="1142.76" y1="166.67" x2="1111.66" y2="191.57" stroke="#333" stroke-width="0.8" />
<line x1="1136.7" y1="159.1" x2="1105.6" y2="184" stroke="#2a2a2a" stroke-width="1" stroke-dasharray="3.8 2.6"/>
<polygon points="1129,165 1156.3,200.6 1171.7,188.8 1144.4,153.2" fill="#f2f1ed" stroke="none" stroke-width="1" />
<line x1="1129" y1="165" x2="1156.3" y2="200.6" stroke="#333" stroke-width="0.8" />
<line x1="1144.4" y1="153.2" x2="1171.7" y2="188.8" stroke="#333" stroke-width="0.8" />
<line x1="1136.7" y1="159.1" x2="1164" y2="194.7" stroke="#2a2a2a" stroke-width="1" stroke-dasharray="3.8 2.6"/>
<circle cx="1136.7" cy="159.1" r="9.7" fill="#90b1b2" stroke="#2a2c3a" stroke-width="0.9" />
<text x="1136.7" y="162.7" font-size="10" text-anchor="middle" fill="#1a1a1a" stroke="#1a1a1a" stroke-width="0.25" font-weight="normal" >A</text>
<circle cx="1105.6" cy="184" r="9.7" fill="#90b1b2" stroke="#2a2c3a" stroke-width="0.9" />
<text x="1105.6" y="187.6" font-size="10" text-anchor="middle" fill="#1a1a1a" stroke="#1a1a1a" stroke-width="0.25" font-weight="normal" >B</text>
<circle cx="1164" cy="194.7" r="9.7" fill="#90b1b2" stroke="#2a2c3a" stroke-width="0.9" />
<text x="1164" y="198.3" font-size="10" text-anchor="middle" fill="#1a1a1a" stroke="#1a1a1a" stroke-width="0.25" font-weight="normal" >C</text>
<text x="1103.45" y="220.6" font-size="11.55" text-anchor="start" fill="#1c1c1c" stroke="#1c1c1c" stroke-width="0.25" font-weight="normal" >&gt; diversity score</text>
<text x="924.38" y="220.6" font-size="11.62" text-anchor="start" fill="#1c1c1c" stroke="#1c1c1c" stroke-width="0.25" font-weight="normal" >Sort and Pair-wise judgement</text>
<rect x="755.6" y="251.3" width="452.9" height="177.5" rx="8" fill="none" stroke="#1e1e28" stroke-width="1.15" stroke-dasharray="1.1 1.9"/>
<text x="763.32" y="267.8" font-size="11.63" text-anchor="start" fill="#1c1c1c" stroke="#1c1c1c" stroke-width="0.25" font-weight="normal" >Cluster Connectivity</text>
<ellipse cx="831" cy="337.8" rx="58" ry="60.8" fill="none" stroke="#959595" stroke-width="1.35" />
<ellipse cx="813.7" cy="331.3" rx="24.6" ry="47.2" fill="none" stroke="#111" stroke-width="0.9" stroke-dasharray="2.6 1 0.8 1"/>
<ellipse cx="857.3" cy="329.8" rx="14.3" ry="34.7" fill="none" stroke="#111" stroke-width="0.9" stroke-dasharray="2.6 1 0.8 1"/>
<line x1="800.3" y1="334.3" x2="823.1" y2="305.9" stroke="#aaa" stroke-width="1.3" />
<line x1="800.3" y1="334.3" x2="819.7" y2="356.8" stroke="#aaa" stroke-width="1.3" />
<line x1="823.1" y1="305.9" x2="819.7" y2="356.8" stroke="#aaa" stroke-width="1" />
<line x1="856.6" y1="312.6" x2="856.6" y2="349.4" stroke="#aaa" stroke-width="1.3" />
<line x1="823.1" y1="305.9" x2="856.6" y2="312.6" stroke="#a83535" stroke-width="1.6" />
<line x1="823.1" y1="305.9" x2="856.6" y2="349.4" stroke="#a83535" stroke-width="1.6" />
<line x1="800.3" y1="334.3" x2="856.6" y2="312.6" stroke="#a83535" stroke-width="1.6" />
<line x1="800.3" y1="334.3" x2="856.6" y2="349.4" stroke="#a83535" stroke-width="1.6" />
<line x1="819.7" y1="356.8" x2="856.6" y2="312.6" stroke="#a83535" stroke-width="1.6" />
<line x1="819.7" y1="356.8" x2="856.6" y2="349.4" stroke="#a83535" stroke-width="1.6" />
<circle cx="823.1" cy="305.9" r="8.4" fill="#90b1b2" stroke="#2a2c3a" stroke-width="0.9" />
<text x="823.1" y="309.64" font-size="10.4" text-anchor="middle" fill="#1a1a1a" stroke="#1a1a1a" stroke-width="0.25" font-weight="normal" >C</text>
<circle cx="800.3" cy="334.3" r="8.4" fill="#90b1b2" stroke="#2a2c3a" stroke-width="0.9" />
<text x="800.3" y="338.04" font-size="10.4" text-anchor="middle" fill="#1a1a1a" stroke="#1a1a1a" stroke-width="0.25" font-weight="normal" >A</text>
<circle cx="819.7" cy="356.8" r="8.4" fill="#90b1b2" stroke="#2a2c3a" stroke-width="0.9" />
<text x="819.7" y="360.54" font-size="10.4" text-anchor="middle" fill="#1a1a1a" stroke="#1a1a1a" stroke-width="0.25" font-weight="normal" >B</text>
<circle cx="856.6" cy="312.6" r="8.4" fill="#90b1b2" stroke="#2a2c3a" stroke-width="0.9" />
<text x="856.6" y="316.34" font-size="10.4" text-anchor="middle" fill="#1a1a1a" stroke="#1a1a1a" stroke-width="0.25" font-weight="normal" >D</text>
<circle cx="856.6" cy="349.4" r="8.4" fill="#90b1b2" stroke="#2a2c3a" stroke-width="0.9" />
<text x="856.6" y="353.14" font-size="10.4" text-anchor="middle" fill="#1a1a1a" stroke="#1a1a1a" stroke-width="0.25" font-weight="normal" >E</text>
<text x="805.37" y="386.9" font-size="10.37" text-anchor="start" fill="#1c1c1c" stroke="#1c1c1c" stroke-width="0.25" font-weight="normal" >Node.1</text>
<text x="841.14" y="375.5" font-size="10.69" text-anchor="start" fill="#1c1c1c" stroke="#1c1c1c" stroke-width="0.25" font-weight="normal" >Node.2</text>
<text x="817.1" y="410.9" font-size="11.07" text-anchor="start" fill="#1c1c1c" stroke="#1c1c1c" stroke-width="0.25" font-weight="normal" >Strict:</text>
<text x="774.27" y="422.6" font-size="10.67" text-anchor="start" fill="#1c1c1c" stroke="#1c1c1c" stroke-width="0.25" font-weight="normal" >fully connected subgragh</text>
<ellipse cx="983.3" cy="337.8" rx="58" ry="60.8" fill="none" stroke="#959595" stroke-width="1.35" />
<ellipse cx="966" cy="331.3" rx="24.6" ry="47.2" fill="none" stroke="#111" stroke-width="0.9" stroke-dasharray="2.6 1 0.8 1"/>
<ellipse cx="1009.6" cy="329.8" rx="14.3" ry="34.7" fill="none" stroke="#111" stroke-width="0.9" stroke-dasharray="2.6 1 0.8 1"/>
<line x1="952.6" y1="334.3" x2="975.4" y2="305.9" stroke="#aaa" stroke-width="1.3" />
<line x1="952.6" y1="334.3" x2="972" y2="356.8" stroke="#aaa" stroke-width="1.3" />
<line x1="975.4" y1="305.9" x2="972" y2="356.8" stroke="#aaa" stroke-width="1" />
<line x1="1008.9" y1="312.6" x2="1008.9" y2="349.4" stroke="#aaa" stroke-width="1.3" />
<line x1="975.4" y1="305.9" x2="1008.9" y2="312.6" stroke="#a83535" stroke-width="1.6" />
<line x1="952.6" y1="334.3" x2="1008.9" y2="349.4" stroke="#a83535" stroke-width="1.6" />
<line x1="972" y1="356.8" x2="1008.9" y2="312.6" stroke="#a83535" stroke-width="1.6" />
<line x1="972" y1="356.8" x2="1008.9" y2="349.4" stroke="#a83535" stroke-width="1.6" />
<circle cx="975.4" cy="305.9" r="8.4" fill="#90b1b2" stroke="#2a2c3a" stroke-width="0.9" />
<text x="975.4" y="309.64" font-size="10.4" text-anchor="middle" fill="#1a1a1a" stroke="#1a1a1a" stroke-width="0.25" font-weight="normal" >C</text>
<circle cx="952.6" cy="334.3" r="8.4" fill="#90b1b2" stroke="#2a2c3a" stroke-width="0.9" />
<text x="952.6" y="338.04" font-size="10.4" text-anchor="middle" fill="#1a1a1a" stroke="#1a1a1a" stroke-width="0.25" font-weight="normal" >A</text>
<circle cx="972" cy="356.8" r="8.4" fill="#90b1b2" stroke="#2a2c3a" stroke-width="0.9" />
<text x="972" y="360.54" font-size="10.4" text-anchor="middle" fill="#1a1a1a" stroke="#1a1a1a" stroke-width="0.25" font-weight="normal" >B</text>
<circle cx="1008.9" cy="312.6" r="8.4" fill="#90b1b2" stroke="#2a2c3a" stroke-width="0.9" />
<text x="1008.9" y="316.34" font-size="10.4" text-anchor="middle" fill="#1a1a1a" stroke="#1a1a1a" stroke-width="0.25" font-weight="normal" >D</text>
<circle cx="1008.9" cy="349.4" r="8.4" fill="#90b1b2" stroke="#2a2c3a" stroke-width="0.9" />
<text x="1008.9" y="353.14" font-size="10.4" text-anchor="middle" fill="#1a1a1a" stroke="#1a1a1a" stroke-width="0.25" font-weight="normal" >E</text>
<text x="957.67" y="386.9" font-size="10.37" text-anchor="start" fill="#1c1c1c" stroke="#1c1c1c" stroke-width="0.25" font-weight="normal" >Node.1</text>
<text x="993.44" y="375.5" font-size="10.69" text-anchor="start" fill="#1c1c1c" stroke="#1c1c1c" stroke-width="0.25" font-weight="normal" >Node.2</text>
<text x="958.03" y="410.9" font-size="10.83" text-anchor="start" fill="#1c1c1c" stroke="#1c1c1c" stroke-width="0.25" font-weight="normal" >Moderate:</text>
<text x="916.68" y="422.6" font-size="10.66" text-anchor="start" fill="#1c1c1c" stroke="#1c1c1c" stroke-width="0.25" font-weight="normal" >≥50% child nodes connected</text>
<ellipse cx="1135.6" cy="337.8" rx="58" ry="60.8" fill="none" stroke="#959595" stroke-width="1.35" />
<ellipse cx="1118.3" cy="331.3" rx="24.6" ry="47.2" fill="none" stroke="#111" stroke-width="0.9" stroke-dasharray="2.6 1 0.8 1"/>
<ellipse cx="1161.9" cy="329.8" rx="14.3" ry="34.7" fill="none" stroke="#111" stroke-width="0.9" stroke-dasharray="2.6 1 0.8 1"/>
<line x1="1104.9" y1="334.3" x2="1127.7" y2="305.9" stroke="#aaa" stroke-width="1.3" />
<line x1="1104.9" y1="334.3" x2="1124.3" y2="356.8" stroke="#aaa" stroke-width="1.3" />
<line x1="1127.7" y1="305.9" x2="1124.3" y2="356.8" stroke="#aaa" stroke-width="1" />
<line x1="1161.2" y1="312.6" x2="1161.2" y2="349.4" stroke="#aaa" stroke-width="1.3" />
<line x1="1124.3" y1="356.8" x2="1161.2" y2="312.6" stroke="#a83535" stroke-width="1.6" />
<circle cx="1127.7" cy="305.9" r="8.4" fill="#90b1b2" stroke="#2a2c3a" stroke-width="0.9" />
<text x="1127.7" y="309.64" font-size="10.4" text-anchor="middle" fill="#1a1a1a" stroke="#1a1a1a" stroke-width="0.25" font-weight="normal" >C</text>
<circle cx="1104.9" cy="334.3" r="8.4" fill="#90b1b2" stroke="#2a2c3a" stroke-width="0.9" />
<text x="1104.9" y="338.04" font-size="10.4" text-anchor="middle" fill="#1a1a1a" stroke="#1a1a1a" stroke-width="0.25" font-weight="normal" >A</text>
<circle cx="1124.3" cy="356.8" r="8.4" fill="#90b1b2" stroke="#2a2c3a" stroke-width="0.9" />
<text x="1124.3" y="360.54" font-size="10.4" text-anchor="middle" fill="#1a1a1a" stroke="#1a1a1a" stroke-width="0.25" font-weight="normal" >B</text>
<circle cx="1161.2" cy="312.6" r="8.4" fill="#90b1b2" stroke="#2a2c3a" stroke-width="0.9" />
<text x="1161.2" y="316.34" font-size="10.4" text-anchor="middle" fill="#1a1a1a" stroke="#1a1a1a" stroke-width="0.25" font-weight="normal" >D</text>
<circle cx="1161.2" cy="349.4" r="8.4" fill="#90b1b2" stroke="#2a2c3a" stroke-width="0.9" />
<text x="1161.2" y="353.14" font-size="10.4" text-anchor="middle" fill="#1a1a1a" stroke="#1a1a1a" stroke-width="0.25" font-weight="normal" >E</text>
<text x="1109.97" y="386.9" font-size="10.37" text-anchor="start" fill="#1c1c1c" stroke="#1c1c1c" stroke-width="0.25" font-weight="normal" >Node.1</text>
<text x="1145.74" y="375.5" font-size="10.69" text-anchor="start" fill="#1c1c1c" stroke="#1c1c1c" stroke-width="0.25" font-weight="normal" >Node.2</text>
<text x="1120.29" y="410.9" font-size="11.29" text-anchor="start" fill="#1c1c1c" stroke="#1c1c1c" stroke-width="0.25" font-weight="normal" >Soft:</text>
<text x="1086.75" y="422.6" font-size="10.66" text-anchor="start" fill="#1c1c1c" stroke="#1c1c1c" stroke-width="0.25" font-weight="normal" >connected subgraph</text>
<rect x="755.7" y="449.6" width="452.8" height="151.9" rx="8" fill="none" stroke="#1e1e28" stroke-width="1.15" stroke-dasharray="1.1 1.9"/>
<text x="762.96" y="465.3" font-size="11.81" text-anchor="start" fill="#1c1c1c" stroke="#1c1c1c" stroke-width="0.25" font-weight="normal" >Paralog evaluation</text>
<line x1="786" y1="506.3" x2="881.5" y2="506.3" stroke="#bbb" stroke-width="1" />
<line x1="786" y1="523.9" x2="881.5" y2="523.9" stroke="#bbb" stroke-width="1" />
<line x1="786" y1="541.4" x2="881.5" y2="541.4" stroke="#bbb" stroke-width="1" />
<line x1="786" y1="559.4" x2="881.5" y2="559.4" stroke="#bbb" stroke-width="1" />
<line x1="786" y1="577.4" x2="881.5" y2="577.4" stroke="#bbb" stroke-width="1" />
<text x="760.92" y="508.4" font-size="10.6" text-anchor="start" fill="#1c1c1c" stroke="#1c1c1c" stroke-width="0.25" font-weight="normal" >Sp.1</text>
<text x="760.91" y="524.7" font-size="10.85" text-anchor="start" fill="#1c1c1c" stroke="#1c1c1c" stroke-width="0.25" font-weight="normal" >Sp.2</text>
<text x="760.91" y="543.2" font-size="10.83" text-anchor="start" fill="#1c1c1c" stroke="#1c1c1c" stroke-width="0.25" font-weight="normal" >Sp.3</text>
<text x="760.91" y="579.2" font-size="10.92" text-anchor="start" fill="#1c1c1c" stroke="#1c1c1c" stroke-width="0.25" font-weight="normal" >Sp.N</text>
<circle cx="765.35" cy="559" r="0.65" fill="#444" stroke="none" stroke-width="0" />
<circle cx="768.8" cy="559" r="0.65" fill="#444" stroke="none" stroke-width="0" />
<circle cx="772.25" cy="559" r="0.65" fill="#444" stroke="none" stroke-width="0" />
<ellipse cx="813.7" cy="523.6" rx="21" ry="41.5" fill="none" stroke="#111" stroke-width="1.3" stroke-dasharray="3.6 1.4 1 1.4" transform="rotate(15 813.7 523.6)"/>
<line x1="824.3" y1="505.5" x2="808.5" y2="533.2" stroke="#555" stroke-width="1.2" />
<line x1="824.3" y1="505.5" x2="852.6" y2="559.9" stroke="#555" stroke-width="1.2" />
<line x1="808.5" y1="533.2" x2="852.6" y2="559.9" stroke="#555" stroke-width="1.2" />
<ellipse cx="824.3" cy="505.5" rx="9.8" ry="10.1" fill="#90b1b2" stroke="#1e2030" stroke-width="1.1" />
<ellipse cx="808.5" cy="533.2" rx="11.1" ry="16.3" fill="#90b1b2" stroke="#1e2030" stroke-width="1.1" />
<ellipse cx="852.6" cy="559.9" rx="14.4" ry="24.8" fill="#90b1b2" stroke="#1e2030" stroke-width="1.1" />
<rect x="818.3" y="503.7" width="12" height="5.2" rx="0" fill="none" stroke="#6a6a6a" stroke-width="0.6" opacity="0.8"/>
<rect x="802.5" y="521.3" width="12" height="5.2" rx="0" fill="none" stroke="#6a6a6a" stroke-width="0.6" opacity="0.8"/>
<rect x="846.6" y="556.8" width="12" height="5.2" rx="0" fill="none" stroke="#6a6a6a" stroke-width="0.6" opacity="0.8"/>
<rect x="846.6" y="574.8" width="12" height="5.2" rx="0" fill="none" stroke="#6a6a6a" stroke-width="0.6" opacity="0.8"/>
<rect x="802.6" y="538.9" width="11.8" height="5" rx="0" fill="#d29a65" stroke="#8a6a50" stroke-width="0.5" />
<rect x="846.5" y="538.9" width="11.8" height="5" rx="0" fill="#d29a65" stroke="#8a6a50" stroke-width="0.5" />
<text x="808.08" y="500.2" font-size="10.3" text-anchor="start" fill="#1c1c1c" stroke="#1c1c1c" stroke-width="0.25" font-weight="normal" >A</text>
<text x="794.95" y="519" font-size="10.65" text-anchor="start" fill="#1c1c1c" stroke="#1c1c1c" stroke-width="0.25" font-weight="normal" >B</text>
<text x="842.37" y="532.9" font-size="10.74" text-anchor="start" fill="#1c1c1c" stroke="#1c1c1c" stroke-width="0.25" font-weight="normal" >gene.C</text>
<text x="785.57" y="558.2" font-size="10.85" text-anchor="start" fill="#1c1c1c" stroke="#1c1c1c" stroke-width="0.25" font-weight="normal" >gene.B</text>
<text x="866.53" y="574.6" font-size="10" text-anchor="start" fill="#1c1c1c" stroke="#1c1c1c" stroke-width="0.25" font-weight="normal" >C</text>
<line x1="890.1" y1="531.1" x2="912.8" y2="531.1" stroke="#777" stroke-width="1.2" />
<polygon points="916.8,531.1 911.8,528.5 911.8,533.7" fill="#222" stroke="none" stroke-width="1" />
<polygon points="916.8,531.1 982.6,506.6 1048.2,531.1 982.6,555.6" fill="#fff" stroke="#2b2c46" stroke-width="1.3" />
<line x1="945" y1="529.5" x2="1022.9" y2="529.5" stroke="#bbb" stroke-width="0.8" />
<rect x="957.1" y="526.8" width="20" height="5.7" rx="0" fill="#d29a65" stroke="#8a7560" stroke-width="0.6" />
<rect x="984.6" y="526.8" width="20.3" height="5.7" rx="0" fill="#d29a65" stroke="#8a7560" stroke-width="0.6" />
<path d="M963.2,526.4 Q980.5,512 996.8,526.1" fill="none" stroke="#c04a50" stroke-width="1.1" />
<text x="970.53" y="518.4" font-size="10.86" text-anchor="start" fill="#1c1c1c" stroke="#1c1c1c" stroke-width="0.25" font-weight="normal" >BBH</text>
<text x="947.97" y="540.7" font-size="10.69" text-anchor="start" fill="#1c1c1c" stroke="#1c1c1c" stroke-width="0.25" font-weight="normal" >gene.B</text>
<text x="985.27" y="540.7" font-size="10.68" text-anchor="start" fill="#1c1c1c" stroke="#1c1c1c" stroke-width="0.25" font-weight="normal" >gene.C</text>
<polyline points="982.5,506.6 982.5,484.5 1048,484.5" fill="none" stroke="#222" stroke-width="1" />
<polygon points="1053.1,484.5 1047.6,481.8 1047.6,487.2" fill="#222" stroke="none" stroke-width="1" />
<text x="1011.72" y="481.6" font-size="11.06" text-anchor="start" fill="#1c1c1c" stroke="#1c1c1c" stroke-width="0.25" font-weight="normal" >No</text>
<polyline points="982.5,555.6 982.5,577.5 1048,577.5" fill="none" stroke="#222" stroke-width="1" />
<polygon points="1053.1,577.5 1047.6,574.8 1047.6,580.2" fill="#222" stroke="none" stroke-width="1" />
<text x="1011.29" y="574" font-size="10.33" text-anchor="start" fill="#1c1c1c" stroke="#1c1c1c" stroke-width="0.25" font-weight="normal" >Yes</text>
<ellipse cx="1122.8" cy="486.2" rx="40.5" ry="24" fill="none" stroke="#959595" stroke-width="1.35" transform="rotate(-38 1122.8 486.2)"/>
<polygon points="1134.43,464.5 1102.33,489.8 1114.47,505.2 1146.57,479.9" fill="#f2f1ed" stroke="none" stroke-width="1" />
<line x1="1134.43" y1="464.5" x2="1102.33" y2="489.8" stroke="#333" stroke-width="0.8" />
<line x1="1146.57" y1="479.9" x2="1114.47" y2="505.2" stroke="#333" stroke-width="0.8" />
<line x1="1140.5" y1="472.2" x2="1108.4" y2="497.5" stroke="#2a2a2a" stroke-width="1" stroke-dasharray="3.8 2.6"/>
<circle cx="1140.5" cy="472.2" r="9.8" fill="#90b1b2" stroke="#2a2c3a" stroke-width="0.9" />
<text x="1140.5" y="475.8" font-size="10" text-anchor="middle" fill="#1a1a1a" stroke="#1a1a1a" stroke-width="0.25" font-weight="normal" >A</text>
<circle cx="1108.4" cy="497.5" r="9.8" fill="#90b1b2" stroke="#2a2c3a" stroke-width="0.9" />
<text x="1108.4" y="501.1" font-size="10" text-anchor="middle" fill="#1a1a1a" stroke="#1a1a1a" stroke-width="0.25" font-weight="normal" >B</text>
<text x="1055.17" y="475.4" font-size="10.53" text-anchor="start" fill="#1c1c1c" stroke="#1c1c1c" stroke-width="0.25" font-weight="normal" >Cluster.1</text>
<circle cx="1167.8" cy="508.8" r="16" fill="none" stroke="#959595" stroke-width="1.35" />
<circle cx="1167.8" cy="508.8" r="9.8" fill="#90b1b2" stroke="#2a2c3a" stroke-width="0.9" />
<text x="1167.8" y="512.4" font-size="10" text-anchor="middle" fill="#1a1a1a" stroke="#1a1a1a" stroke-width="0.25" font-weight="normal" >C</text>
<text x="1162.17" y="489.2" font-size="10.63" text-anchor="start" fill="#1c1c1c" stroke="#1c1c1c" stroke-width="0.25" font-weight="normal" >Cluster.2</text>
<ellipse cx="1146.1" cy="562.1" rx="48" ry="33.5" fill="none" stroke="#959595" stroke-width="1.35" />
<polygon points="1110.43,575.54 1168.83,586.24 1172.37,566.96 1113.97,556.26" fill="#f2f1ed" stroke="none" stroke-width="1" />
<line x1="1110.43" y1="575.54" x2="1168.83" y2="586.24" stroke="#333" stroke-width="0.8" />
<line x1="1113.97" y1="556.26" x2="1172.37" y2="566.96" stroke="#333" stroke-width="0.8" />
<line x1="1112.2" y1="565.9" x2="1170.6" y2="576.6" stroke="#2a2a2a" stroke-width="1" stroke-dasharray="3.8 2.6"/>
<polygon points="1137.24,533.7 1106.14,558.2 1118.26,573.6 1149.36,549.1" fill="#f2f1ed" stroke="none" stroke-width="1" />
<line x1="1137.24" y1="533.7" x2="1106.14" y2="558.2" stroke="#333" stroke-width="0.8" />
<line x1="1149.36" y1="549.1" x2="1118.26" y2="573.6" stroke="#333" stroke-width="0.8" />
<line x1="1143.3" y1="541.4" x2="1112.2" y2="565.9" stroke="#2a2a2a" stroke-width="1" stroke-dasharray="3.8 2.6"/>
<polygon points="1135.56,547.41 1162.86,582.61 1178.34,570.59 1151.04,535.39" fill="#f2f1ed" stroke="none" stroke-width="1" />
<line x1="1135.56" y1="547.41" x2="1162.86" y2="582.61" stroke="#333" stroke-width="0.8" />
<line x1="1151.04" y1="535.39" x2="1178.34" y2="570.59" stroke="#333" stroke-width="0.8" />
<line x1="1143.3" y1="541.4" x2="1170.6" y2="576.6" stroke="#2a2a2a" stroke-width="1" stroke-dasharray="3.8 2.6"/>
<circle cx="1143.3" cy="541.4" r="9.8" fill="#90b1b2" stroke="#2a2c3a" stroke-width="0.9" />
<text x="1143.3" y="545" font-size="10" text-anchor="middle" fill="#1a1a1a" stroke="#1a1a1a" stroke-width="0.25" font-weight="normal" >A</text>
<circle cx="1112.2" cy="565.9" r="9.8" fill="#90b1b2" stroke="#2a2c3a" stroke-width="0.9" />
<text x="1112.2" y="569.5" font-size="10" text-anchor="middle" fill="#1a1a1a" stroke="#1a1a1a" stroke-width="0.25" font-weight="normal" >B</text>
<circle cx="1170.6" cy="576.6" r="9.8" fill="#90b1b2" stroke="#2a2c3a" stroke-width="0.9" />
<text x="1170.6" y="580.2" font-size="10" text-anchor="middle" fill="#1a1a1a" stroke="#1a1a1a" stroke-width="0.25" font-weight="normal" >C</text>
<text x="1055.17" y="554" font-size="10.53" text-anchor="start" fill="#1c1c1c" stroke="#1c1c1c" stroke-width="0.25" font-weight="normal" >Cluster.1</text>
<rect x="401.5" y="624.2" width="822.5" height="153.4" rx="13" fill="none" stroke="#1e1e1e" stroke-width="1.3" />
<text x="423.97" y="639.1" font-size="12.81" text-anchor="start" fill="#1c1c1c" stroke="#1c1c1c" stroke-width="0.25" font-weight="normal" >Result dumping</text>
<rect x="423.3" y="645.9" width="254.5" height="125.2" rx="5" fill="none" stroke="#1e1e28" stroke-width="1.15" stroke-dasharray="1.1 1.9"/>
<text x="449.97" y="662.7" font-size="11.68" text-anchor="start" fill="#1c1c1c" stroke="#1c1c1c" stroke-width="0.25" font-weight="normal" >Recent duplication events</text>
<ellipse cx="458.7" cy="719" rx="20.5" ry="46" fill="none" stroke="#959595" stroke-width="1.35" transform="rotate(14 458.7 719)"/>
<line x1="465" y1="690" x2="452.5" y2="745" stroke="#999" stroke-width="1.1" />
<line x1="465" y1="690" x2="512.6" y2="714.7" stroke="#c03a3a" stroke-width="1.6" />
<circle cx="512.6" cy="714.7" r="16.5" fill="none" stroke="#959595" stroke-width="1.35" />
<circle cx="465" cy="690" r="11.4" fill="#90b1b2" stroke="#2a2c3a" stroke-width="0.9" />
<text x="465" y="693.78" font-size="10.5" text-anchor="middle" fill="#1a1a1a" stroke="#1a1a1a" stroke-width="0.25" font-weight="normal" >A</text>
<circle cx="452.5" cy="745" r="11.4" fill="#90b1b2" stroke="#2a2c3a" stroke-width="0.9" />
<text x="452.5" y="748.78" font-size="10.5" text-anchor="middle" fill="#1a1a1a" stroke="#1a1a1a" stroke-width="0.25" font-weight="normal" >B</text>
<circle cx="512.6" cy="714.7" r="11.4" fill="#90b1b2" stroke="#2a2c3a" stroke-width="0.9" />
<text x="512.6" y="718.48" font-size="10.5" text-anchor="middle" fill="#1a1a1a" stroke="#1a1a1a" stroke-width="0.25" font-weight="normal" >C</text>
<text x="484.44" y="692.1" font-size="10.7" text-anchor="start" fill="#1c1c1c" stroke="#1c1c1c" stroke-width="0.25" font-weight="normal" >Identity ≥ 0.99</text>
<text x="537.93" y="714.4" font-size="10.85" text-anchor="start" fill="#1c1c1c" stroke="#1c1c1c" stroke-width="0.25" font-weight="normal" >Merge</text>
<line x1="533" y1="718.6" x2="567.4" y2="718.6" stroke="#222" stroke-width="1" />
<polygon points="571.8,718.6 566.3,715.9 566.3,721.3" fill="#222" stroke="none" stroke-width="1" />
<ellipse cx="620.6" cy="717.2" rx="44.4" ry="45.8" fill="none" stroke="#959595" stroke-width="1.35" />
<line x1="615" y1="690.6" x2="602.5" y2="742.2" stroke="#999" stroke-width="1.1" />
<line x1="615" y1="690.6" x2="645" y2="714.4" stroke="#999" stroke-width="1.1" />
<circle cx="615" cy="690.6" r="11.4" fill="#90b1b2" stroke="#2a2c3a" stroke-width="0.9" />
<text x="615" y="694.38" font-size="10.5" text-anchor="middle" fill="#1a1a1a" stroke="#1a1a1a" stroke-width="0.25" font-weight="normal" >A</text>
<circle cx="602.5" cy="742.2" r="11.4" fill="#90b1b2" stroke="#2a2c3a" stroke-width="0.9" />
<text x="602.5" y="745.98" font-size="10.5" text-anchor="middle" fill="#1a1a1a" stroke="#1a1a1a" stroke-width="0.25" font-weight="normal" >B</text>
<circle cx="645" cy="714.4" r="11.4" fill="#90b1b2" stroke="#2a2c3a" stroke-width="0.9" />
<text x="645" y="718.18" font-size="10.5" text-anchor="middle" fill="#1a1a1a" stroke="#1a1a1a" stroke-width="0.25" font-weight="normal" >C</text>
<text x="638.08" y="766.4" font-size="10.48" text-anchor="start" fill="#1c1c1c" stroke="#1c1c1c" stroke-width="0.25" font-weight="normal" >Cluster</text>
<text x="684.64" y="705.1" font-size="11.74" text-anchor="start" fill="#1c1c1c" stroke="#1c1c1c" stroke-width="0.25" font-weight="normal" >Integrate</text>
<line x1="686" y1="711" x2="726.8" y2="711" stroke="#888" stroke-width="1.2" />
<polygon points="730.8,711 725.8,708.4 725.8,713.6" fill="#222" stroke="none" stroke-width="1" />
<rect x="737.6" y="646" width="242.9" height="125.9" rx="6" fill="#f2f1ed" stroke="#2b2c46" stroke-width="1.1" />
<text x="751.32" y="663" font-size="11.62" text-anchor="start" fill="#1c1c1c" stroke="#1c1c1c" stroke-width="0.25" font-weight="normal" >Complete graph</text>
<line x1="763" y1="679.9" x2="976.4" y2="679.9" stroke="#bdbdbd" stroke-width="1" />
<line x1="763" y1="697.95" x2="976.4" y2="697.95" stroke="#bdbdbd" stroke-width="1" />
<line x1="763" y1="715.3" x2="976.4" y2="715.3" stroke="#bdbdbd" stroke-width="1" />
<line x1="763" y1="733.25" x2="976.4" y2="733.25" stroke="#bdbdbd" stroke-width="1" />
<line x1="763" y1="750.8" x2="976.4" y2="750.8" stroke="#bdbdbd" stroke-width="1" />
<line x1="808.5" y1="680.2" x2="784" y2="707" stroke="#d08585" stroke-width="3.6" />
<line x1="808.5" y1="680.2" x2="818.2" y2="733.4" stroke="#d08585" stroke-width="3.6" />
<line x1="845.1" y1="706.2" x2="843.9" y2="751.3" stroke="#d08585" stroke-width="3.6" />
<line x1="872.6" y1="723.6" x2="872.6" y2="751.5" stroke="#d08585" stroke-width="3.6" />
<line x1="893.5" y1="688.2" x2="914.1" y2="732.7" stroke="#d08585" stroke-width="3.6" />
<line x1="923.6" y1="679.9" x2="942.5" y2="706.3" stroke="#d08585" stroke-width="3.6" />
<line x1="967.1" y1="715.8" x2="967.1" y2="732.2" stroke="#d08585" stroke-width="3.6" />
<line x1="967.1" y1="732.2" x2="958.3" y2="751.1" stroke="#d08585" stroke-width="3.6" />
<ellipse cx="808.5" cy="680.2" rx="9.1" ry="7.9" fill="#90b1b2" stroke="#15151c" stroke-width="1.25" />
<rect x="802.4" y="677" width="12.2" height="5.8" rx="0" fill="none" stroke="#6a6a6a" stroke-width="0.6" opacity="0.75"/>
<ellipse cx="784" cy="707" rx="11.3" ry="16.6" fill="#90b1b2" stroke="#15151c" stroke-width="1.25" />
<rect x="777.9" y="695.05" width="12.2" height="5.8" rx="0" fill="none" stroke="#6a6a6a" stroke-width="0.6" opacity="0.75"/>
<rect x="777.9" y="712.4" width="12.2" height="5.8" rx="0" fill="none" stroke="#6a6a6a" stroke-width="0.6" opacity="0.75"/>
<ellipse cx="818.2" cy="733.4" rx="14.5" ry="24.9" fill="#90b1b2" stroke="#15151c" stroke-width="1.25" />
<rect x="812.1" y="712.4" width="12.2" height="5.8" rx="0" fill="none" stroke="#6a6a6a" stroke-width="0.6" opacity="0.75"/>
<rect x="812.1" y="730.35" width="12.2" height="5.8" rx="0" fill="none" stroke="#6a6a6a" stroke-width="0.6" opacity="0.75"/>
<rect x="812.1" y="747.9" width="12.2" height="5.8" rx="0" fill="none" stroke="#6a6a6a" stroke-width="0.6" opacity="0.75"/>
<ellipse cx="791.6" cy="751.3" rx="9" ry="9.4" fill="#b4cca9" stroke="#15151c" stroke-width="1.25" />
<rect x="785.5" y="747.9" width="12.2" height="5.8" rx="0" fill="none" stroke="#6a6a6a" stroke-width="0.6" opacity="0.75"/>
<ellipse cx="845.1" cy="706.2" rx="12.7" ry="17.1" fill="#b4cca9" stroke="#15151c" stroke-width="1.25" />
<rect x="839" y="695.05" width="12.2" height="5.8" rx="0" fill="none" stroke="#6a6a6a" stroke-width="0.6" opacity="0.75"/>
<rect x="839" y="712.4" width="12.2" height="5.8" rx="0" fill="none" stroke="#6a6a6a" stroke-width="0.6" opacity="0.75"/>
<ellipse cx="843.9" cy="751.3" rx="9" ry="9.4" fill="#b4cca9" stroke="#15151c" stroke-width="1.25" />
<rect x="837.8" y="747.9" width="12.2" height="5.8" rx="0" fill="none" stroke="#6a6a6a" stroke-width="0.6" opacity="0.75"/>
<ellipse cx="860" cy="679.9" rx="9" ry="8.3" fill="#c0814a" stroke="#15151c" stroke-width="1.25" />
<rect x="853.9" y="677" width="12.2" height="5.8" rx="0" fill="none" stroke="#6a6a6a" stroke-width="0.6" opacity="0.75"/>
<ellipse cx="872.6" cy="723.6" rx="11.3" ry="16.6" fill="#b4cca9" stroke="#15151c" stroke-width="1.25" />
<rect x="866.5" y="712.4" width="12.2" height="5.8" rx="0" fill="none" stroke="#6a6a6a" stroke-width="0.6" opacity="0.75"/>
<rect x="866.5" y="730.35" width="12.2" height="5.8" rx="0" fill="none" stroke="#6a6a6a" stroke-width="0.6" opacity="0.75"/>
<ellipse cx="872.6" cy="751.5" rx="8.7" ry="6.8" fill="#b4cca9" stroke="#15151c" stroke-width="1.25" />
<rect x="866.5" y="747.9" width="12.2" height="5.8" rx="0" fill="none" stroke="#6a6a6a" stroke-width="0.6" opacity="0.75"/>
<ellipse cx="893.5" cy="688.2" rx="12.1" ry="16.3" fill="#90b1b2" stroke="#15151c" stroke-width="1.25" />
<rect x="887.4" y="677" width="12.2" height="5.8" rx="0" fill="none" stroke="#6a6a6a" stroke-width="0.6" opacity="0.75"/>
<rect x="887.4" y="695.05" width="12.2" height="5.8" rx="0" fill="none" stroke="#6a6a6a" stroke-width="0.6" opacity="0.75"/>
<ellipse cx="923.6" cy="679.9" rx="9" ry="8.3" fill="#c0814a" stroke="#15151c" stroke-width="1.25" />
<rect x="917.5" y="677" width="12.2" height="5.8" rx="0" fill="none" stroke="#6a6a6a" stroke-width="0.6" opacity="0.75"/>
<ellipse cx="914.1" cy="732.7" rx="14.6" ry="25.9" fill="#90b1b2" stroke="#15151c" stroke-width="1.25" />
<rect x="908" y="712.4" width="12.2" height="5.8" rx="0" fill="none" stroke="#6a6a6a" stroke-width="0.6" opacity="0.75"/>
<rect x="908" y="730.35" width="12.2" height="5.8" rx="0" fill="none" stroke="#6a6a6a" stroke-width="0.6" opacity="0.75"/>
<rect x="908" y="747.9" width="12.2" height="5.8" rx="0" fill="none" stroke="#6a6a6a" stroke-width="0.6" opacity="0.75"/>
<ellipse cx="942.5" cy="706.3" rx="10.3" ry="18.1" fill="#c0814a" stroke="#15151c" stroke-width="1.25" />
<rect x="936.4" y="695.05" width="12.2" height="5.8" rx="0" fill="none" stroke="#6a6a6a" stroke-width="0.6" opacity="0.75"/>
<rect x="936.4" y="712.4" width="12.2" height="5.8" rx="0" fill="none" stroke="#6a6a6a" stroke-width="0.6" opacity="0.75"/>
<ellipse cx="967.1" cy="679.4" rx="8.7" ry="6.8" fill="#c0814a" stroke="#15151c" stroke-width="1.25" />
<rect x="961" y="677" width="12.2" height="5.8" rx="0" fill="none" stroke="#6a6a6a" stroke-width="0.6" opacity="0.75"/>
<ellipse cx="967.1" cy="698.3" rx="8.7" ry="6.8" fill="#c0814a" stroke="#15151c" stroke-width="1.25" />
<rect x="961" y="695.05" width="12.2" height="5.8" rx="0" fill="none" stroke="#6a6a6a" stroke-width="0.6" opacity="0.75"/>
<ellipse cx="967.1" cy="715.8" rx="8.7" ry="6.8" fill="#c0814a" stroke="#15151c" stroke-width="1.25" />
<rect x="961" y="712.4" width="12.2" height="5.8" rx="0" fill="none" stroke="#6a6a6a" stroke-width="0.6" opacity="0.75"/>
<ellipse cx="967.1" cy="732.2" rx="8.7" ry="6.8" fill="#c0814a" stroke="#15151c" stroke-width="1.25" />
<rect x="961" y="730.35" width="12.2" height="5.8" rx="0" fill="none" stroke="#6a6a6a" stroke-width="0.6" opacity="0.75"/>
<ellipse cx="958.3" cy="751.1" rx="8.7" ry="6.8" fill="#c0814a" stroke="#15151c" stroke-width="1.25" />
<rect x="952.2" y="747.9" width="12.2" height="5.8" rx="0" fill="none" stroke="#6a6a6a" stroke-width="0.6" opacity="0.75"/>
<text x="740.14" y="682" font-size="10.29" text-anchor="start" fill="#1c1c1c" stroke="#1c1c1c" stroke-width="0.25" font-weight="normal" >Sp.1</text>
<text x="740.12" y="698.3" font-size="10.7" text-anchor="start" fill="#1c1c1c" stroke="#1c1c1c" stroke-width="0.25" font-weight="normal" >Sp.2</text>
<text x="740.12" y="716.6" font-size="10.67" text-anchor="start" fill="#1c1c1c" stroke="#1c1c1c" stroke-width="0.25" font-weight="normal" >Sp.3</text>
<text x="740.11" y="752.5" font-size="10.82" text-anchor="start" fill="#1c1c1c" stroke="#1c1c1c" stroke-width="0.25" font-weight="normal" >Sp.N</text>
<circle cx="744.55" cy="733" r="0.65" fill="#444" stroke="none" stroke-width="0" />
<circle cx="748.25" cy="733" r="0.65" fill="#444" stroke="none" stroke-width="0" />
<circle cx="751.95" cy="733" r="0.65" fill="#444" stroke="none" stroke-width="0" />
<text x="794.38" y="673.7" font-size="10.6" text-anchor="start" fill="#1c1c1c" stroke="#1c1c1c" stroke-width="0.25" font-weight="normal" >A</text>
<text x="769.22" y="695.1" font-size="10.6" text-anchor="start" fill="#1c1c1c" stroke="#1c1c1c" stroke-width="0.25" font-weight="normal" >B</text>
<text x="805.6" y="708.4" font-size="10.6" text-anchor="start" fill="#1c1c1c" stroke="#1c1c1c" stroke-width="0.25" font-weight="normal" >C</text>
<text x="883" y="672.8" font-size="10.6" text-anchor="start" fill="#1c1c1c" stroke="#1c1c1c" stroke-width="0.25" font-weight="normal" >D</text>
<text x="892.26" y="724.7" font-size="10.6" text-anchor="start" fill="#1c1c1c" stroke="#1c1c1c" stroke-width="0.25" font-weight="normal" >E</text>
<text x="768.38" y="767.7" font-size="10.47" text-anchor="start" fill="#1c1c1c" stroke="#1c1c1c" stroke-width="0.25" font-weight="normal" >gene.1</text>
<text x="801.87" y="767.7" font-size="10.71" text-anchor="start" fill="#1c1c1c" stroke="#1c1c1c" stroke-width="0.25" font-weight="normal" >gene.2</text>
<text x="836.28" y="767.7" font-size="10.52" text-anchor="start" fill="#1c1c1c" stroke="#1c1c1c" stroke-width="0.25" font-weight="normal" >gene.3</text>
<text x="870.38" y="767.7" font-size="10.47" text-anchor="start" fill="#1c1c1c" stroke="#1c1c1c" stroke-width="0.25" font-weight="normal" >gene.4</text>
<text x="946.88" y="767.7" font-size="10.6" text-anchor="start" fill="#1c1c1c" stroke="#1c1c1c" stroke-width="0.25" font-weight="normal" >gene.N</text>
<circle cx="911.75" cy="767" r="0.65" fill="#555" stroke="none" stroke-width="0" />
<circle cx="914.7" cy="767" r="0.65" fill="#555" stroke="none" stroke-width="0" />
<circle cx="917.65" cy="767" r="0.65" fill="#555" stroke="none" stroke-width="0" />
<rect x="1055.3" y="647.2" width="154.2" height="125" rx="6" fill="#f2f1ed" stroke="#2b2c46" stroke-width="1.1" />
<text x="1076.62" y="662.9" font-size="11.69" text-anchor="start" fill="#1c1c1c" stroke="#1c1c1c" stroke-width="0.25" font-weight="normal" >Cluster properties</text>
<circle cx="1072" cy="687.6" r="1.35" fill="#1c1c1c" stroke="none" stroke-width="0" />
<text x="1076.07" y="691.5" font-size="10.64" text-anchor="start" fill="#1c1c1c" stroke="#1c1c1c" stroke-width="0.25" font-weight="normal" >Cluster Minimum Identity</text>
<circle cx="1072" cy="705.9" r="1.35" fill="#1c1c1c" stroke="none" stroke-width="0" />
<text x="1076.07" y="709.8" font-size="10.61" text-anchor="start" fill="#1c1c1c" stroke="#1c1c1c" stroke-width="0.25" font-weight="normal" >Cluster Average Identity</text>
<circle cx="1072" cy="725.1" r="1.35" fill="#1c1c1c" stroke="none" stroke-width="0" />
<text x="1076.09" y="729" font-size="10.24" text-anchor="start" fill="#1c1c1c" stroke="#1c1c1c" stroke-width="0.25" font-weight="normal" >Cluster Uniqueness Identity</text>
<circle cx="1072" cy="743.3" r="1.35" fill="#1c1c1c" stroke="none" stroke-width="0" />
<text x="1076.07" y="747.2" font-size="10.56" text-anchor="start" fill="#1c1c1c" stroke="#1c1c1c" stroke-width="0.25" font-weight="normal" >Cluster Variance</text>
<text x="998.17" y="705.2" font-size="11.77" text-anchor="start" fill="#1c1c1c" stroke="#1c1c1c" stroke-width="0.25" font-weight="normal" >Quantify</text>
<line x1="985" y1="710.7" x2="1045.8" y2="710.7" stroke="#888" stroke-width="1.2" />
<polygon points="1049.8,710.7 1044.8,708.1 1044.8,713.3" fill="#222" stroke="none" stroke-width="1" />
</svg></body></html>
